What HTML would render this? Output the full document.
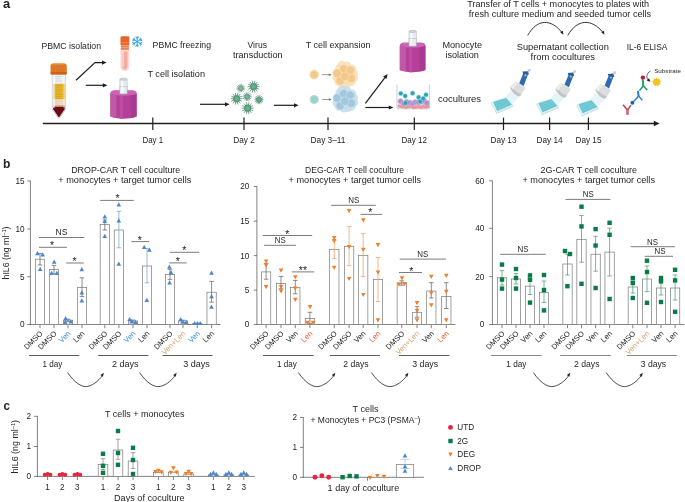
<!DOCTYPE html>
<html><head><meta charset="utf-8"><title>figure</title>
<style>
html,body{margin:0;padding:0;background:#fff;}
svg{display:block;will-change:transform;font-family:"Liberation Sans",sans-serif;}
</style></head><body>
<svg width="685" height="502" viewBox="0 0 685 502">
<rect width="685" height="502" fill="#fff"/>
<g id="panelA">
<text x="3.00" y="7.60" font-size="12" fill="#242424" textLength="7.20" lengthAdjust="spacingAndGlyphs" font-weight="bold">a</text>
<line x1="42.80" y1="123.50" x2="656.00" y2="123.50" stroke="#1f1f1f" stroke-width="1.3" />
<path d="M653.8 120.8L659.6 123.5L653.8 126.2Z" fill="#1f1f1f"/>
<line x1="152.80" y1="117.60" x2="152.80" y2="130.00" stroke="#1f1f1f" stroke-width="1.2" />
<text x="142.50" y="143.00" font-size="8.5" fill="#242424" textLength="20.70" lengthAdjust="spacingAndGlyphs" >Day 1</text>
<line x1="244.00" y1="117.60" x2="244.00" y2="130.00" stroke="#1f1f1f" stroke-width="1.2" />
<text x="233.20" y="143.00" font-size="8.5" fill="#242424" textLength="21.60" lengthAdjust="spacingAndGlyphs" >Day 2</text>
<line x1="328.00" y1="117.60" x2="328.00" y2="130.00" stroke="#1f1f1f" stroke-width="1.2" />
<text x="310.50" y="143.00" font-size="8.5" fill="#242424" textLength="35.00" lengthAdjust="spacingAndGlyphs" >Day 3–11</text>
<line x1="414.30" y1="117.60" x2="414.30" y2="130.00" stroke="#1f1f1f" stroke-width="1.2" />
<text x="401.50" y="143.00" font-size="8.5" fill="#242424" textLength="25.50" lengthAdjust="spacingAndGlyphs" >Day 12</text>
<line x1="503.50" y1="117.60" x2="503.50" y2="130.00" stroke="#1f1f1f" stroke-width="1.2" />
<text x="490.50" y="143.00" font-size="8.5" fill="#242424" textLength="26.00" lengthAdjust="spacingAndGlyphs" >Day 13</text>
<line x1="549.60" y1="117.60" x2="549.60" y2="130.00" stroke="#1f1f1f" stroke-width="1.2" />
<text x="536.50" y="143.00" font-size="8.5" fill="#242424" textLength="26.20" lengthAdjust="spacingAndGlyphs" >Day 14</text>
<line x1="588.40" y1="117.60" x2="588.40" y2="130.00" stroke="#1f1f1f" stroke-width="1.2" />
<text x="575.50" y="143.00" font-size="8.5" fill="#242424" textLength="26.00" lengthAdjust="spacingAndGlyphs" >Day 15</text>
<text x="41.50" y="48.60" font-size="8.8" fill="#242424" textLength="59.50" lengthAdjust="spacingAndGlyphs" >PBMC isolation</text>
<text x="152.60" y="47.70" font-size="8.8" fill="#242424" textLength="58.40" lengthAdjust="spacingAndGlyphs" >PBMC freezing</text>
<text x="147.40" y="76.80" font-size="8.8" fill="#242424" textLength="57.60" lengthAdjust="spacingAndGlyphs" >T cell isolation</text>
<text x="247.50" y="47.70" font-size="8.8" fill="#242424" textLength="19.50" lengthAdjust="spacingAndGlyphs" >Virus</text>
<text x="233.00" y="57.90" font-size="8.8" fill="#242424" textLength="49.50" lengthAdjust="spacingAndGlyphs" >transduction</text>
<text x="305.70" y="47.50" font-size="8.8" fill="#242424" textLength="64.80" lengthAdjust="spacingAndGlyphs" >T cell expansion</text>
<text x="442.40" y="47.80" font-size="8.8" fill="#242424" textLength="39.70" lengthAdjust="spacingAndGlyphs" >Monocyte</text>
<text x="445.40" y="57.60" font-size="8.8" fill="#242424" textLength="33.40" lengthAdjust="spacingAndGlyphs" >isolation</text>
<text x="438.00" y="101.60" font-size="8.8" fill="#242424" textLength="43.00" lengthAdjust="spacingAndGlyphs" >cocultures</text>
<text x="467.30" y="6.70" font-size="8.8" fill="#242424" textLength="181.70" lengthAdjust="spacingAndGlyphs" >Transfer of T cells + monocytes to plates with</text>
<text x="468.80" y="16.60" font-size="8.8" fill="#242424" textLength="182.40" lengthAdjust="spacingAndGlyphs" >fresh culture medium and seeded tumor cells</text>
<text x="516.70" y="49.80" font-size="8.8" fill="#242424" textLength="92.20" lengthAdjust="spacingAndGlyphs" >Supernatant collection</text>
<text x="530.50" y="59.60" font-size="8.8" fill="#242424" textLength="64.60" lengthAdjust="spacingAndGlyphs" >from cocultures</text>
<text x="626.70" y="50.00" font-size="8.4" fill="#242424" textLength="40.70" lengthAdjust="spacingAndGlyphs" >IL-6 ELISA</text>
<text x="654.20" y="72.70" font-size="6.2" fill="#242424" textLength="26.70" lengthAdjust="spacingAndGlyphs" >Substrate</text>
<g>
<path d="M52.2 73 L52.2 108.8 Q52.2 109.8 52.8 110.6 L57.8 117.7 Q58.9 119 60 117.7 L65 110.6 Q65.6 109.8 65.6 108.8 L65.6 73 Z" fill="#eef1f3" stroke="#aeb4ba" stroke-width="0.5"/>
<rect x="53.2" y="83.8" width="11.4" height="15.6" fill="#e7b52a"/>
<rect x="53.2" y="99.4" width="11.4" height="7.4" fill="#f1dcc0"/>
<path d="M53.2 106.8 L64.6 106.8 L64.6 109.2 L59.6 116.8 Q58.9 117.6 58.2 116.8 L53.2 109.2 Z" fill="#6b0d13"/>
<rect x="53.2" y="105.4" width="11.4" height="1.6" fill="#b77a6a" opacity="0.7"/>
<rect x="53.1" y="74" width="1.7" height="34" fill="#fff" opacity="0.6"/>
<rect x="63.2" y="74" width="1.2" height="34" fill="#fff" opacity="0.3"/>
<g stroke="#b88f16" stroke-width="0.4"><line x1="55.6" y1="85.6" x2="61.6" y2="85.6"/><line x1="55.6" y1="87.8" x2="60" y2="87.8"/><line x1="55.6" y1="90" x2="61.6" y2="90"/><line x1="55.6" y1="92.2" x2="60" y2="92.2"/><line x1="55.6" y1="94.4" x2="61.6" y2="94.4"/><line x1="55.6" y1="96.6" x2="60" y2="96.6"/><line x1="55.6" y1="98.8" x2="61.6" y2="98.8"/></g>
<g stroke="#d9c3a4" stroke-width="0.4"><line x1="55.6" y1="101.4" x2="61.6" y2="101.4"/><line x1="55.6" y1="103.8" x2="60" y2="103.8"/></g>
<g stroke="#aeb3b9" stroke-width="0.4"><line x1="55.6" y1="76.6" x2="61.6" y2="76.6"/><line x1="55.6" y1="78.8" x2="60" y2="78.8"/><line x1="55.6" y1="81" x2="61.6" y2="81"/></g>
<path d="M50.5 66 Q50.5 63.4 53 63.4 L64.2 63.4 Q66.8 63.4 66.8 66 L66.8 72.8 Q66.8 74.4 65.2 74.4 L52 74.4 Q50.5 74.4 50.5 72.8 Z" fill="#de782b"/>
<rect x="50.5" y="72" width="16.3" height="2.4" rx="1" fill="#c9641f"/>
<path d="M51.6 64.6 Q52 63.6 53.4 63.6 L64 63.6 Q65.4 63.6 65.8 64.6 Z" fill="#ee9850"/>
<g stroke="#c86a24" stroke-width="0.35" opacity="0.7"><line x1="53.5" y1="65" x2="53.5" y2="72"/><line x1="56" y1="65" x2="56" y2="72"/><line x1="58.6" y1="65" x2="58.6" y2="72"/><line x1="61.2" y1="65" x2="61.2" y2="72"/><line x1="63.8" y1="65" x2="63.8" y2="72"/></g>
</g>
<path d="M76 80.2 L95 62.6 L102 62.6" fill="none" stroke="#1f1f1f" stroke-width="1.2"/>
<path d="M106.6 62.6L102 60.5L102 64.7Z" fill="#1f1f1f"/>
<line x1="85.80" y1="85.30" x2="103.30" y2="85.30" stroke="#1f1f1f" stroke-width="1.2" />
<path d="M107.40 85.30L102.80 87.40L102.80 83.20Z" fill="#1f1f1f"/>
<g>
<path d="M120.9 48 L120.9 66.4 Q120.9 70.6 124.9 70.6 Q128.9 70.6 128.9 66.4 L128.9 48 Z" fill="#fbe3dd" stroke="#e6b3a8" stroke-width="0.4"/>
<path d="M122.2 51.4 L122.2 66 Q122.2 69.4 124.9 69.4 Q127.6 69.4 127.6 66 L127.6 51.4 Z" fill="#f4aca2"/>
<rect x="122.4" y="52" width="1.5" height="14.6" fill="#fbd9d2" opacity="0.9"/>
<rect x="120.5" y="36.2" width="8.8" height="9.4" rx="1.4" fill="#e8632a"/>
<rect x="120.9" y="45" width="8" height="4.8" fill="#ee7f4a"/>
<line x1="120.7" y1="42.6" x2="129.1" y2="42.6" stroke="#f4a07a" stroke-width="0.6"/>
<line x1="120.9" y1="45.4" x2="128.9" y2="45.4" stroke="#f9c4ab" stroke-width="0.5"/>
<line x1="120.9" y1="47.6" x2="128.9" y2="47.6" stroke="#f9c4ab" stroke-width="0.5"/>
</g>
<path d="M137.20 41.60L137.20 46.80M137.20 44.80L138.73 46.09M137.20 44.80L135.67 46.09M137.20 41.60L132.70 44.20M134.43 43.20L134.08 45.17M134.43 43.20L132.55 42.52M137.20 41.60L132.70 39.00M134.43 40.00L132.55 40.68M134.43 40.00L134.08 38.03M137.20 41.60L137.20 36.40M137.20 38.40L135.67 37.11M137.20 38.40L138.73 37.11M137.20 41.60L141.70 39.00M139.97 40.00L140.32 38.03M139.97 40.00L141.85 40.68M137.20 41.60L141.70 44.20M139.97 43.20L141.85 42.52M139.97 43.20L140.32 45.17" stroke="#1e9be0" stroke-width="0.9" fill="none" stroke-linecap="round"/>
<g>
<rect x="119.90" y="79.20" width="7.2" height="15" fill="#e6ecef" stroke="#aab4ba" stroke-width="0.5"/>
<rect x="121.20" y="80.40" width="2" height="13" fill="#fff" opacity="0.8"/>
<ellipse cx="123.50" cy="79.20" rx="3.6" ry="1.1" fill="#cfd6da" stroke="#9aa5ab" stroke-width="0.4"/>
<path d="M110.40 93.90 Q110.40 91.00 114.40 90.60 L132.60 90.60 Q136.60 91.00 136.60 93.90 L136.60 116.40 Q123.50 121.00 110.40 116.40 Z" fill="#b5409a"/>
<path d="M110.40 93.90 L116.40 95.40 L116.40 118.00 Q112.40 117.40 110.40 116.40 Z" fill="#c158a8"/>
<path d="M136.60 93.90 L130.60 95.40 L130.60 118.00 Q134.60 117.40 136.60 116.40 Z" fill="#aa3a91"/>
<rect x="119.83" y="95.40" width="3.14" height="23.40" fill="#bf4ea5" opacity="0.9"/>
<path d="M110.40 93.90 Q110.40 91.00 114.40 90.60 L132.60 90.60 Q136.60 91.00 136.60 93.90 Q123.50 97.40 110.40 93.90 Z" fill="#cc63b4"/>
<rect x="119.90" y="86.40" width="7.2" height="7.5" fill="#e6ecef" stroke="#aab4ba" stroke-width="0.5"/>
<rect x="121.20" y="86.40" width="2" height="7" fill="#fff" opacity="0.8"/>
</g>
<g>
<rect x="409.00" y="31.40" width="7.2" height="15" fill="#e6ecef" stroke="#aab4ba" stroke-width="0.5"/>
<rect x="410.30" y="32.60" width="2" height="13" fill="#fff" opacity="0.8"/>
<ellipse cx="412.60" cy="31.40" rx="3.6" ry="1.1" fill="#cfd6da" stroke="#9aa5ab" stroke-width="0.4"/>
<path d="M399.80 46.10 Q399.80 43.20 403.80 42.80 L421.40 42.80 Q425.40 43.20 425.40 46.10 L425.40 70.00 Q412.60 74.60 399.80 70.00 Z" fill="#b5409a"/>
<path d="M399.80 46.10 L405.80 47.60 L405.80 71.60 Q401.80 71.00 399.80 70.00 Z" fill="#c158a8"/>
<path d="M425.40 46.10 L419.40 47.60 L419.40 71.60 Q423.40 71.00 425.40 70.00 Z" fill="#aa3a91"/>
<rect x="409.02" y="47.60" width="3.07" height="24.80" fill="#bf4ea5" opacity="0.9"/>
<path d="M399.80 46.10 Q399.80 43.20 403.80 42.80 L421.40 42.80 Q425.40 43.20 425.40 46.10 Q412.60 49.60 399.80 46.10 Z" fill="#cc63b4"/>
<rect x="409.00" y="38.60" width="7.2" height="7.5" fill="#e6ecef" stroke="#aab4ba" stroke-width="0.5"/>
<rect x="410.30" y="38.60" width="2" height="7" fill="#fff" opacity="0.8"/>
</g>
<line x1="200.00" y1="104.30" x2="225.50" y2="104.30" stroke="#1f1f1f" stroke-width="1.2" />
<path d="M229.60 104.30L225.00 106.40L225.00 102.20Z" fill="#1f1f1f"/>
<g opacity="0.85"><path d="M243.14 88.20L244.70 88.20M242.91 89.22L244.31 89.89M242.26 90.03L243.23 91.25M241.32 90.48L241.67 92.00M240.28 90.48L239.93 92.00M239.34 90.03L238.37 91.25M238.69 89.22L237.29 89.89M238.46 88.20L236.90 88.20M238.69 87.18L237.29 86.51M239.34 86.37L238.37 85.15M240.28 85.92L239.93 84.40M241.32 85.92L241.67 84.40M242.26 86.37L243.23 85.15M242.91 87.18L244.31 86.51" stroke="#2f6658" stroke-width="0.65" stroke-linecap="round" fill="none"/>
<circle cx="240.8" cy="88.2" r="2.34" fill="#5aa37e" stroke="#3f8567" stroke-width="0.5"/>
<circle cx="240.8" cy="88.2" r="1.29" fill="#6db48c" opacity="0.8"/></g>
<g opacity="1.0"><path d="M256.96 86.70L259.20 86.70M256.63 88.16L258.65 89.13M255.69 89.33L257.09 91.08M254.35 89.98L254.85 92.16M252.85 89.98L252.35 92.16M251.51 89.33L250.11 91.08M250.57 88.16L248.55 89.13M250.24 86.70L248.00 86.70M250.57 85.24L248.55 84.27M251.51 84.07L250.11 82.32M252.85 83.42L252.35 81.24M254.35 83.42L254.85 81.24M255.69 84.07L257.09 82.32M256.63 85.24L258.65 84.27" stroke="#2f6658" stroke-width="0.65" stroke-linecap="round" fill="none"/>
<circle cx="253.6" cy="86.7" r="3.36" fill="#5aa37e" stroke="#3f8567" stroke-width="0.5"/>
<circle cx="253.6" cy="86.7" r="1.85" fill="#6db48c" opacity="0.8"/></g>
<g opacity="1.0"><path d="M239.96 98.70L242.20 98.70M239.63 100.16L241.65 101.13M238.69 101.33L240.09 103.08M237.35 101.98L237.85 104.16M235.85 101.98L235.35 104.16M234.51 101.33L233.11 103.08M233.57 100.16L231.55 101.13M233.24 98.70L231.00 98.70M233.57 97.24L231.55 96.27M234.51 96.07L233.11 94.32M235.85 95.42L235.35 93.24M237.35 95.42L237.85 93.24M238.69 96.07L240.09 94.32M239.63 97.24L241.65 96.27" stroke="#2f6658" stroke-width="0.65" stroke-linecap="round" fill="none"/>
<circle cx="236.6" cy="98.7" r="3.36" fill="#5aa37e" stroke="#3f8567" stroke-width="0.5"/>
<circle cx="236.6" cy="98.7" r="1.85" fill="#6db48c" opacity="0.8"/></g>
<g opacity="0.9"><path d="M249.72 96.80L251.40 96.80M249.47 97.89L250.98 98.62M248.77 98.77L249.82 100.08M247.76 99.26L248.13 100.89M246.64 99.26L246.27 100.89M245.63 98.77L244.58 100.08M244.93 97.89L243.42 98.62M244.68 96.80L243.00 96.80M244.93 95.71L243.42 94.98M245.63 94.83L244.58 93.52M246.64 94.34L246.27 92.71M247.76 94.34L248.13 92.71M248.77 94.83L249.82 93.52M249.47 95.71L250.98 94.98" stroke="#2f6658" stroke-width="0.65" stroke-linecap="round" fill="none"/>
<circle cx="247.2" cy="96.8" r="2.52" fill="#5aa37e" stroke="#3f8567" stroke-width="0.5"/>
<circle cx="247.2" cy="96.8" r="1.39" fill="#6db48c" opacity="0.8"/></g>
<g opacity="1.0"><path d="M261.52 99.70L263.20 99.70M261.27 100.79L262.78 101.52M260.57 101.67L261.62 102.98M259.56 102.16L259.93 103.79M258.44 102.16L258.07 103.79M257.43 101.67L256.38 102.98M256.73 100.79L255.22 101.52M256.48 99.70L254.80 99.70M256.73 98.61L255.22 97.88M257.43 97.73L256.38 96.42M258.44 97.24L258.07 95.61M259.56 97.24L259.93 95.61M260.57 97.73L261.62 96.42M261.27 98.61L262.78 97.88" stroke="#2f6658" stroke-width="0.65" stroke-linecap="round" fill="none"/>
<circle cx="259" cy="99.7" r="2.52" fill="#5aa37e" stroke="#3f8567" stroke-width="0.5"/>
<circle cx="259" cy="99.7" r="1.39" fill="#6db48c" opacity="0.8"/></g>
<g opacity="1.0"><path d="M251.06 108.20L253.30 108.20M250.73 109.66L252.75 110.63M249.79 110.83L251.19 112.58M248.45 111.48L248.95 113.66M246.95 111.48L246.45 113.66M245.61 110.83L244.21 112.58M244.67 109.66L242.65 110.63M244.34 108.20L242.10 108.20M244.67 106.74L242.65 105.77M245.61 105.57L244.21 103.82M246.95 104.92L246.45 102.74M248.45 104.92L248.95 102.74M249.79 105.57L251.19 103.82M250.73 106.74L252.75 105.77" stroke="#2f6658" stroke-width="0.65" stroke-linecap="round" fill="none"/>
<circle cx="247.7" cy="108.2" r="3.36" fill="#5aa37e" stroke="#3f8567" stroke-width="0.5"/>
<circle cx="247.7" cy="108.2" r="1.85" fill="#6db48c" opacity="0.8"/></g>
<line x1="273.90" y1="105.30" x2="294.50" y2="105.30" stroke="#1f1f1f" stroke-width="1.2" />
<path d="M298.60 105.30L294.00 107.40L294.00 103.20Z" fill="#1f1f1f"/>
<circle cx="314.2" cy="74.7" r="4.6" fill="#f7d49e"/><circle cx="314.2" cy="74.7" r="3.4" fill="#f5c98a"/>
<circle cx="314.2" cy="99.5" r="4.6" fill="#b5dcd8"/><circle cx="314.2" cy="99.5" r="3.4" fill="#9fd0cc"/>
<line x1="322.00" y1="74.70" x2="329.30" y2="74.70" stroke="#6f6f6f" stroke-width="0.7" />
<path d="M331.80 74.70L328.80 76.00L328.80 73.40Z" fill="#6f6f6f"/>
<line x1="322.00" y1="99.50" x2="329.30" y2="99.50" stroke="#6f6f6f" stroke-width="0.7" />
<path d="M331.80 99.50L328.80 100.80L328.80 98.20Z" fill="#6f6f6f"/>
<circle cx="341.9" cy="65.0" r="4.2" fill="#f8dcb4" opacity="0.8"/>
<circle cx="347.0" cy="65.60000000000001" r="4.2" fill="#f8dcb4" opacity="0.8"/>
<circle cx="353.79999999999995" cy="73.2" r="4.2" fill="#f8dcb4" opacity="0.8"/>
<circle cx="347.7" cy="83.0" r="4.2" fill="#f8dcb4" opacity="0.8"/>
<circle cx="336.59999999999997" cy="77.9" r="4.2" fill="#f8dcb4" opacity="0.8"/>
<circle cx="354.0" cy="77.80000000000001" r="4.2" fill="#f8dcb4" opacity="0.8"/>
<circle cx="339.4" cy="68.2" r="4.2" fill="#f8dcb4" opacity="0.8"/>
<circle cx="352.0" cy="68.80000000000001" r="4.2" fill="#f8dcb4" opacity="0.8"/>
<circle cx="343.79999999999995" cy="83.4" r="4.2" fill="#f8dcb4" opacity="0.8"/>
<circle cx="351.4" cy="81.80000000000001" r="4.2" fill="#f8dcb4" opacity="0.8"/>
<circle cx="338.79999999999995" cy="81.80000000000001" r="4.2" fill="#f8dcb4" opacity="0.8"/>
<circle cx="337.2" cy="73.2" r="4.3" fill="#f4c88c" stroke="#f9e6b4" stroke-width="0.6"/>
<circle cx="343.7" cy="69.0" r="4.3" fill="#f4c88c" stroke="#f9e6b4" stroke-width="0.6"/>
<circle cx="350.2" cy="70.4" r="4.3" fill="#f4c88c" stroke="#f9e6b4" stroke-width="0.6"/>
<circle cx="351.2" cy="78.4" r="4.3" fill="#f4c88c" stroke="#f9e6b4" stroke-width="0.6"/>
<circle cx="340.2" cy="80.80000000000001" r="4.3" fill="#f4c88c" stroke="#f9e6b4" stroke-width="0.6"/>
<circle cx="344.79999999999995" cy="76.5" r="4.3" fill="#f4c88c" stroke="#f9e6b4" stroke-width="0.6"/>
<circle cx="341.9" cy="89.8" r="4.2" fill="#c2dbe9" opacity="0.8"/>
<circle cx="347.0" cy="90.4" r="4.2" fill="#c2dbe9" opacity="0.8"/>
<circle cx="353.79999999999995" cy="98.0" r="4.2" fill="#c2dbe9" opacity="0.8"/>
<circle cx="347.7" cy="107.8" r="4.2" fill="#c2dbe9" opacity="0.8"/>
<circle cx="336.59999999999997" cy="102.7" r="4.2" fill="#c2dbe9" opacity="0.8"/>
<circle cx="354.0" cy="102.60000000000001" r="4.2" fill="#c2dbe9" opacity="0.8"/>
<circle cx="339.4" cy="93.0" r="4.2" fill="#c2dbe9" opacity="0.8"/>
<circle cx="352.0" cy="93.60000000000001" r="4.2" fill="#c2dbe9" opacity="0.8"/>
<circle cx="343.79999999999995" cy="108.2" r="4.2" fill="#c2dbe9" opacity="0.8"/>
<circle cx="351.4" cy="106.60000000000001" r="4.2" fill="#c2dbe9" opacity="0.8"/>
<circle cx="338.79999999999995" cy="106.60000000000001" r="4.2" fill="#c2dbe9" opacity="0.8"/>
<circle cx="337.2" cy="98.0" r="4.3" fill="#a3c8de" stroke="#d0e4ef" stroke-width="0.6"/>
<circle cx="343.7" cy="93.8" r="4.3" fill="#a3c8de" stroke="#d0e4ef" stroke-width="0.6"/>
<circle cx="350.2" cy="95.2" r="4.3" fill="#a3c8de" stroke="#d0e4ef" stroke-width="0.6"/>
<circle cx="351.2" cy="103.2" r="4.3" fill="#a3c8de" stroke="#d0e4ef" stroke-width="0.6"/>
<circle cx="340.2" cy="105.60000000000001" r="4.3" fill="#a3c8de" stroke="#d0e4ef" stroke-width="0.6"/>
<circle cx="344.79999999999995" cy="101.3" r="4.3" fill="#a3c8de" stroke="#d0e4ef" stroke-width="0.6"/>
<line x1="365.40" y1="103.30" x2="385.12" y2="77.27" stroke="#1f1f1f" stroke-width="1.2" />
<path d="M387.60 74.00L386.50 78.93L383.15 76.40Z" fill="#1f1f1f"/>
<line x1="365.40" y1="107.50" x2="389.30" y2="107.50" stroke="#1f1f1f" stroke-width="1.2" />
<path d="M393.40 107.50L388.80 109.60L388.80 105.40Z" fill="#1f1f1f"/>
<g>
<path d="M397 84.5 L397 108.8 L429.4 108.8 L429.4 84.5" fill="#fcfeff" stroke="#9fc0c8" stroke-width="0.7"/>
<circle cx="399.5" cy="106.1" r="1.9" fill="#e68f95" stroke="#f6c6c8" stroke-width="0.35"/>
<circle cx="401.6" cy="106.2" r="1.9" fill="#e68f95" stroke="#f6c6c8" stroke-width="0.35"/>
<circle cx="403.4" cy="106.6" r="1.9" fill="#e68f95" stroke="#f6c6c8" stroke-width="0.35"/>
<circle cx="406.0" cy="107.1" r="1.9" fill="#e68f95" stroke="#f6c6c8" stroke-width="0.35"/>
<circle cx="407.9" cy="106.3" r="1.9" fill="#e68f95" stroke="#f6c6c8" stroke-width="0.35"/>
<circle cx="409.7" cy="106.4" r="1.9" fill="#e68f95" stroke="#f6c6c8" stroke-width="0.35"/>
<circle cx="411.5" cy="106.1" r="1.9" fill="#e68f95" stroke="#f6c6c8" stroke-width="0.35"/>
<circle cx="413.5" cy="107.3" r="1.9" fill="#e68f95" stroke="#f6c6c8" stroke-width="0.35"/>
<circle cx="415.9" cy="107.1" r="1.9" fill="#e68f95" stroke="#f6c6c8" stroke-width="0.35"/>
<circle cx="417.9" cy="106.3" r="1.9" fill="#e68f95" stroke="#f6c6c8" stroke-width="0.35"/>
<circle cx="419.6" cy="106.9" r="1.9" fill="#e68f95" stroke="#f6c6c8" stroke-width="0.35"/>
<circle cx="421.8" cy="107.2" r="1.9" fill="#e68f95" stroke="#f6c6c8" stroke-width="0.35"/>
<circle cx="423.9" cy="106.1" r="1.9" fill="#e68f95" stroke="#f6c6c8" stroke-width="0.35"/>
<circle cx="425.8" cy="106.9" r="1.9" fill="#e68f95" stroke="#f6c6c8" stroke-width="0.35"/>
<circle cx="427.7" cy="106.2" r="1.9" fill="#e68f95" stroke="#f6c6c8" stroke-width="0.35"/>
<circle cx="400.6" cy="101.3" r="2.7" fill="#ad8fc9" stroke="#d6c6e6" stroke-width="0.5"/>
<circle cx="403.9" cy="103.6" r="2.7" fill="#ad8fc9" stroke="#d6c6e6" stroke-width="0.5"/>
<circle cx="406.5" cy="101.9" r="2.7" fill="#ad8fc9" stroke="#d6c6e6" stroke-width="0.5"/>
<circle cx="409.8" cy="102.7" r="2.7" fill="#ad8fc9" stroke="#d6c6e6" stroke-width="0.5"/>
<circle cx="412.7" cy="103.5" r="2.7" fill="#ad8fc9" stroke="#d6c6e6" stroke-width="0.5"/>
<circle cx="415.4" cy="102.2" r="2.7" fill="#ad8fc9" stroke="#d6c6e6" stroke-width="0.5"/>
<circle cx="418.4" cy="102.3" r="2.7" fill="#ad8fc9" stroke="#d6c6e6" stroke-width="0.5"/>
<circle cx="421.0" cy="101.9" r="2.7" fill="#ad8fc9" stroke="#d6c6e6" stroke-width="0.5"/>
<circle cx="424.5" cy="101.1" r="2.7" fill="#ad8fc9" stroke="#d6c6e6" stroke-width="0.5"/>
<circle cx="426.8" cy="102.9" r="2.7" fill="#ad8fc9" stroke="#d6c6e6" stroke-width="0.5"/>
<circle cx="400.8" cy="93.4" r="2.2" fill="#2f9fb3" stroke="#8fd3dc" stroke-width="0.5"/>
<circle cx="405.2" cy="96" r="2.2" fill="#2f9fb3" stroke="#8fd3dc" stroke-width="0.5"/>
<circle cx="412.6" cy="93.2" r="2.2" fill="#2f9fb3" stroke="#8fd3dc" stroke-width="0.5"/>
<circle cx="418.6" cy="97.2" r="2.2" fill="#2f9fb3" stroke="#8fd3dc" stroke-width="0.5"/>
<circle cx="426" cy="94.8" r="2.2" fill="#2f9fb3" stroke="#8fd3dc" stroke-width="0.5"/>
<circle cx="405.6" cy="103" r="2.2" fill="#2f9fb3" stroke="#8fd3dc" stroke-width="0.5"/>
<circle cx="420.2" cy="101.6" r="2.2" fill="#2f9fb3" stroke="#8fd3dc" stroke-width="0.5"/>
<circle cx="423.2" cy="98.4" r="2.2" fill="#2f9fb3" stroke="#8fd3dc" stroke-width="0.5"/>
</g>
<path d="M527.7 35.4 C537.2 18.6 550.9 18.6 562.0 32.5" fill="none" stroke="#1f1f1f" stroke-width="0.9"/>
<path d="M563.40 34.80L560.26 32.30L562.98 30.81Z" fill="#1f1f1f"/>
<path d="M567.8 35.4 C577.3 18.6 591.9 18.6 603.0 32.5" fill="none" stroke="#1f1f1f" stroke-width="0.9"/>
<path d="M604.40 34.80L601.26 32.30L603.98 30.81Z" fill="#1f1f1f"/>
<g transform="translate(0,0)">
<path d="M491.5 102.2 L506.8 97.1 L513.2 105.1 L513 106.6 L496.6 113.7 L491.4 103.6 Z" fill="#cfe6ea" stroke="#b4d6dc" stroke-width="0.4"/>
<path d="M491.5 102.2 L506.8 97.1 L513.2 105.1 L496.5 112.3 Z" fill="#e3f3f5"/>
<path d="M493.2 101.9 L506.3 97.9 L511.9 104.7 L497.2 110.9 Z" fill="#5fc2cf"/>
<path d="M495.07 101.33L499.30 110.01M496.94 100.76L501.40 109.13M498.81 100.19L503.50 108.24M500.69 99.61L505.60 107.36M502.56 99.04L507.70 106.47M504.43 98.47L509.80 105.59M494.20 104.15L507.70 99.60M495.20 106.40L509.10 101.30M496.20 108.65L510.50 103.00" stroke="#9adbe3" stroke-width="0.35" fill="none"/>
<path d="M509.6 90.4 L519.4 96.6 L513 103.4 L505.6 97.6 Z" fill="#d9eef6" opacity="0.75"/>
<path d="M510.00 90.80L506.00 97.60M511.76 91.92L507.32 98.68M513.52 93.04L508.64 99.76M515.28 94.16L509.96 100.84M517.04 95.28L511.28 101.92M518.80 96.40L512.60 103.00" stroke="#f4fbfd" stroke-width="0.6" fill="none"/>
<path d="M510.2 88.2 Q509.8 87.4 510.6 86.6 L514.6 82.2 Q515.4 81.4 516.6 82 L524.6 87 Q525.6 87.8 525 88.8 L520.4 95.6 Q519.6 96.6 518.4 96.2 Q513.2 94.2 510.2 88.2 Z" fill="#dcddde"/>
<path d="M510.2 88.2 Q513.2 94.2 518.4 96.2 Q519.6 96.6 520.4 95.6 L521.4 94 Q515.8 92.4 511.6 86.4 Z" fill="#c2c4c6"/>
<path d="M515 82 L517.2 83.2 L512.6 89.4 L510.8 87.2 Z" fill="#eeeeef"/>
<path d="M519.2 83.2 L523.6 72.6 L528 74.6 L523.6 86 Z" fill="#2f69ae"/>
<path d="M522.4 71.6 L527.8 71.2 L529 74.2 L526 75.4 L523.4 74.2 Z" fill="#2a5c9c"/>
<path d="M525 74 L526.8 74.8 L526 76.4 L524.2 75.6 Z" fill="#a9bdd6"/>
<line x1="527.8" y1="72.8" x2="529.2" y2="70.4" stroke="#9aa7b5" stroke-width="0.7"/>
<circle cx="529.4" cy="70.2" r="1.1" fill="#c9d3de" stroke="#93a4b8" stroke-width="0.3"/>
</g>
<g transform="translate(45.3,1.3)">
<path d="M491.5 102.2 L506.8 97.1 L513.2 105.1 L513 106.6 L496.6 113.7 L491.4 103.6 Z" fill="#cfe6ea" stroke="#b4d6dc" stroke-width="0.4"/>
<path d="M491.5 102.2 L506.8 97.1 L513.2 105.1 L496.5 112.3 Z" fill="#e3f3f5"/>
<path d="M493.2 101.9 L506.3 97.9 L511.9 104.7 L497.2 110.9 Z" fill="#5fc2cf"/>
<path d="M495.07 101.33L499.30 110.01M496.94 100.76L501.40 109.13M498.81 100.19L503.50 108.24M500.69 99.61L505.60 107.36M502.56 99.04L507.70 106.47M504.43 98.47L509.80 105.59M494.20 104.15L507.70 99.60M495.20 106.40L509.10 101.30M496.20 108.65L510.50 103.00" stroke="#9adbe3" stroke-width="0.35" fill="none"/>
<path d="M509.6 90.4 L519.4 96.6 L513 103.4 L505.6 97.6 Z" fill="#d9eef6" opacity="0.75"/>
<path d="M510.00 90.80L506.00 97.60M511.76 91.92L507.32 98.68M513.52 93.04L508.64 99.76M515.28 94.16L509.96 100.84M517.04 95.28L511.28 101.92M518.80 96.40L512.60 103.00" stroke="#f4fbfd" stroke-width="0.6" fill="none"/>
<path d="M510.2 88.2 Q509.8 87.4 510.6 86.6 L514.6 82.2 Q515.4 81.4 516.6 82 L524.6 87 Q525.6 87.8 525 88.8 L520.4 95.6 Q519.6 96.6 518.4 96.2 Q513.2 94.2 510.2 88.2 Z" fill="#dcddde"/>
<path d="M510.2 88.2 Q513.2 94.2 518.4 96.2 Q519.6 96.6 520.4 95.6 L521.4 94 Q515.8 92.4 511.6 86.4 Z" fill="#c2c4c6"/>
<path d="M515 82 L517.2 83.2 L512.6 89.4 L510.8 87.2 Z" fill="#eeeeef"/>
<path d="M519.2 83.2 L523.6 72.6 L528 74.6 L523.6 86 Z" fill="#2f69ae"/>
<path d="M522.4 71.6 L527.8 71.2 L529 74.2 L526 75.4 L523.4 74.2 Z" fill="#2a5c9c"/>
<path d="M525 74 L526.8 74.8 L526 76.4 L524.2 75.6 Z" fill="#a9bdd6"/>
<line x1="527.8" y1="72.8" x2="529.2" y2="70.4" stroke="#9aa7b5" stroke-width="0.7"/>
<circle cx="529.4" cy="70.2" r="1.1" fill="#c9d3de" stroke="#93a4b8" stroke-width="0.3"/>
</g>
<g transform="translate(85.4,2.4)">
<path d="M491.5 102.2 L506.8 97.1 L513.2 105.1 L513 106.6 L496.6 113.7 L491.4 103.6 Z" fill="#cfe6ea" stroke="#b4d6dc" stroke-width="0.4"/>
<path d="M491.5 102.2 L506.8 97.1 L513.2 105.1 L496.5 112.3 Z" fill="#e3f3f5"/>
<path d="M493.2 101.9 L506.3 97.9 L511.9 104.7 L497.2 110.9 Z" fill="#5fc2cf"/>
<path d="M495.07 101.33L499.30 110.01M496.94 100.76L501.40 109.13M498.81 100.19L503.50 108.24M500.69 99.61L505.60 107.36M502.56 99.04L507.70 106.47M504.43 98.47L509.80 105.59M494.20 104.15L507.70 99.60M495.20 106.40L509.10 101.30M496.20 108.65L510.50 103.00" stroke="#9adbe3" stroke-width="0.35" fill="none"/>
<path d="M509.6 90.4 L519.4 96.6 L513 103.4 L505.6 97.6 Z" fill="#d9eef6" opacity="0.75"/>
<path d="M510.00 90.80L506.00 97.60M511.76 91.92L507.32 98.68M513.52 93.04L508.64 99.76M515.28 94.16L509.96 100.84M517.04 95.28L511.28 101.92M518.80 96.40L512.60 103.00" stroke="#f4fbfd" stroke-width="0.6" fill="none"/>
<path d="M510.2 88.2 Q509.8 87.4 510.6 86.6 L514.6 82.2 Q515.4 81.4 516.6 82 L524.6 87 Q525.6 87.8 525 88.8 L520.4 95.6 Q519.6 96.6 518.4 96.2 Q513.2 94.2 510.2 88.2 Z" fill="#dcddde"/>
<path d="M510.2 88.2 Q513.2 94.2 518.4 96.2 Q519.6 96.6 520.4 95.6 L521.4 94 Q515.8 92.4 511.6 86.4 Z" fill="#c2c4c6"/>
<path d="M515 82 L517.2 83.2 L512.6 89.4 L510.8 87.2 Z" fill="#eeeeef"/>
<path d="M519.2 83.2 L523.6 72.6 L528 74.6 L523.6 86 Z" fill="#2f69ae"/>
<path d="M522.4 71.6 L527.8 71.2 L529 74.2 L526 75.4 L523.4 74.2 Z" fill="#2a5c9c"/>
<path d="M525 74 L526.8 74.8 L526 76.4 L524.2 75.6 Z" fill="#a9bdd6"/>
<line x1="527.8" y1="72.8" x2="529.2" y2="70.4" stroke="#9aa7b5" stroke-width="0.7"/>
<circle cx="529.4" cy="70.2" r="1.1" fill="#c9d3de" stroke="#93a4b8" stroke-width="0.3"/>
</g>
<g stroke-linecap="butt" fill="none">
<path d="M627.5 114.8L627.5 108.6" stroke="#c4404f" stroke-width="2.3"/>
<path d="M627.1 109.6L623 104.7M628 109.6L630.9 105.2" stroke="#c4404f" stroke-width="1.5"/>
<path d="M627.5 114.8L627.5 109" stroke="#e8a0a8" stroke-width="0.4"/>
<path d="M637.9 91L638.7 97" stroke="#2f86c2" stroke-width="2.1"/>
<path d="M638.5 96.2L633.8 101.3M638.9 96.2L642.3 100.4" stroke="#2f86c2" stroke-width="1.5"/>
<path d="M642.9 79.8L643.2 87" stroke="#1a9a5f" stroke-width="2.1"/>
<path d="M643 86.2L639.4 90.6M643.4 86L647.2 90.1" stroke="#1a9a5f" stroke-width="1.5"/>
<path d="M642.9 80L643.2 86.6" stroke="#7fd0a8" stroke-width="0.4"/>
</g>
<circle cx="632.4" cy="102.8" r="2" fill="#2a5fae"/>
<circle cx="642.9" cy="77.6" r="2.2" fill="#b2202c"/>
<polygon points="656.60,77.20 657.73,78.90 659.69,78.32 659.46,80.35 661.33,81.17 659.85,82.57 660.76,84.40 658.72,84.53 658.24,86.51 656.60,85.30 654.96,86.51 654.48,84.53 652.44,84.40 653.35,82.57 651.87,81.17 653.74,80.35 653.51,78.32 655.47,78.90" fill="#f3c31c"/>
<path d="M650.6 70.8 C646.4 73.4 645.8 78 648.6 80.4" fill="none" stroke="#1f1f1f" stroke-width="0.7"/>
<path d="M650.6 81.8L646.6 80.6L649 78.2Z" fill="#1f1f1f"/>
</g>
<g id="panelB">
<text x="3.00" y="168.00" font-size="12" fill="#242424" textLength="7.40" lengthAdjust="spacingAndGlyphs" font-weight="bold">b</text>
<line x1="30.40" y1="180.65" x2="30.40" y2="324.85" stroke="#4d4d4d" stroke-width="0.7" />
<line x1="27.20" y1="181.00" x2="30.40" y2="181.00" stroke="#4d4d4d" stroke-width="0.7" />
<text x="24.60" y="183.90" font-size="8.2" fill="#242424" text-anchor="end" >15</text>
<line x1="27.20" y1="229.00" x2="30.40" y2="229.00" stroke="#4d4d4d" stroke-width="0.7" />
<text x="24.60" y="231.90" font-size="8.2" fill="#242424" text-anchor="end" >10</text>
<line x1="27.20" y1="276.70" x2="30.40" y2="276.70" stroke="#4d4d4d" stroke-width="0.7" />
<text x="24.60" y="279.60" font-size="8.2" fill="#242424" text-anchor="end" >5</text>
<line x1="27.20" y1="324.50" x2="30.40" y2="324.50" stroke="#4d4d4d" stroke-width="0.7" />
<text x="24.60" y="327.40" font-size="8.2" fill="#242424" text-anchor="end" >0</text>
<text x="71.20" y="172.50" font-size="8.8" fill="#242424" textLength="109.00" lengthAdjust="spacingAndGlyphs" >DROP-CAR T cell coculture</text>
<text x="58.30" y="183.20" font-size="8.8" fill="#242424" textLength="133.00" lengthAdjust="spacingAndGlyphs" >+ monocytes + target tumor cells</text>
<text transform="translate(9.4,253) rotate(-90)" font-size="8.8" fill="#242424" text-anchor="middle" textLength="53" lengthAdjust="spacingAndGlyphs">hIL6 (ng ml<tspan font-size="5.6" dy="-3">–1</tspan><tspan dy="3">)</tspan></text>
<line x1="30.05" y1="324.50" x2="220.60" y2="324.50" stroke="#4d4d4d" stroke-width="0.7" />
<line x1="40.00" y1="324.50" x2="40.00" y2="328.10" stroke="#4d4d4d" stroke-width="0.7" />
<text transform="translate(43.10,334.00) rotate(-45)" font-size="7.6" fill="#242424" text-anchor="end">DMSO</text>
<line x1="54.00" y1="324.50" x2="54.00" y2="328.10" stroke="#4d4d4d" stroke-width="0.7" />
<text transform="translate(57.10,334.00) rotate(-45)" font-size="7.6" fill="#242424" text-anchor="end">DMSO</text>
<line x1="68.00" y1="324.50" x2="68.00" y2="328.10" stroke="#4d4d4d" stroke-width="0.7" />
<text transform="translate(71.10,334.00) rotate(-45)" font-size="7.6" fill="#3b93dd" text-anchor="end">Ven</text>
<line x1="82.00" y1="324.50" x2="82.00" y2="328.10" stroke="#4d4d4d" stroke-width="0.7" />
<text transform="translate(85.10,334.00) rotate(-45)" font-size="7.6" fill="#242424" text-anchor="end">Len</text>
<line x1="104.80" y1="324.50" x2="104.80" y2="328.10" stroke="#4d4d4d" stroke-width="0.7" />
<text transform="translate(107.90,334.00) rotate(-45)" font-size="7.6" fill="#242424" text-anchor="end">DMSO</text>
<line x1="118.90" y1="324.50" x2="118.90" y2="328.10" stroke="#4d4d4d" stroke-width="0.7" />
<text transform="translate(122.00,334.00) rotate(-45)" font-size="7.6" fill="#242424" text-anchor="end">DMSO</text>
<line x1="133.00" y1="324.50" x2="133.00" y2="328.10" stroke="#4d4d4d" stroke-width="0.7" />
<text transform="translate(136.10,334.00) rotate(-45)" font-size="7.6" fill="#3b93dd" text-anchor="end">Ven</text>
<line x1="147.00" y1="324.50" x2="147.00" y2="328.10" stroke="#4d4d4d" stroke-width="0.7" />
<text transform="translate(150.10,334.00) rotate(-45)" font-size="7.6" fill="#242424" text-anchor="end">Len</text>
<line x1="170.00" y1="324.50" x2="170.00" y2="328.10" stroke="#4d4d4d" stroke-width="0.7" />
<text transform="translate(173.10,334.00) rotate(-45)" font-size="7.6" fill="#242424" text-anchor="end">DMSO</text>
<line x1="183.00" y1="324.50" x2="183.00" y2="328.10" stroke="#4d4d4d" stroke-width="0.7" />
<text transform="translate(186.10,334.00) rotate(-45)" font-size="7.6" fill="#d9a470" text-anchor="end">Ven+Len</text>
<line x1="197.30" y1="324.50" x2="197.30" y2="328.10" stroke="#4d4d4d" stroke-width="0.7" />
<text transform="translate(200.40,334.00) rotate(-45)" font-size="7.6" fill="#3b93dd" text-anchor="end">Ven</text>
<line x1="211.60" y1="324.50" x2="211.60" y2="328.10" stroke="#4d4d4d" stroke-width="0.7" />
<text transform="translate(214.70,334.00) rotate(-45)" font-size="7.6" fill="#242424" text-anchor="end">Len</text>
<rect x="35.35" y="259.20" width="9.3" height="65.30" fill="#fff" stroke="#7a7a7a" stroke-width="0.7"/>
<line x1="40.00" y1="253.40" x2="40.00" y2="265.00" stroke="#5c5c5c" stroke-width="0.7" />
<line x1="37.70" y1="253.40" x2="42.30" y2="253.40" stroke="#5c5c5c" stroke-width="0.7" />
<line x1="37.70" y1="265.00" x2="42.30" y2="265.00" stroke="#5c5c5c" stroke-width="0.7" />
<path d="M35.10 255.30L39.70 255.30L37.40 251.10Z" fill="#4b87c9"/>
<path d="M40.40 256.50L45.00 256.50L42.70 252.30Z" fill="#4b87c9"/>
<path d="M37.90 270.90L42.50 270.90L40.20 266.70Z" fill="#4b87c9"/>
<rect x="49.35" y="269.40" width="9.3" height="55.10" fill="#fff" stroke="#7a7a7a" stroke-width="0.7"/>
<line x1="54.00" y1="265.40" x2="54.00" y2="274.00" stroke="#5c5c5c" stroke-width="0.7" />
<line x1="51.70" y1="265.40" x2="56.30" y2="265.40" stroke="#5c5c5c" stroke-width="0.7" />
<line x1="51.70" y1="274.00" x2="56.30" y2="274.00" stroke="#5c5c5c" stroke-width="0.7" />
<path d="M51.90 263.70L56.50 263.70L54.20 259.50Z" fill="#4b87c9"/>
<path d="M49.30 274.90L53.90 274.90L51.60 270.70Z" fill="#4b87c9"/>
<path d="M54.50 274.90L59.10 274.90L56.80 270.70Z" fill="#4b87c9"/>
<rect x="63.35" y="320.20" width="9.3" height="4.30" fill="#fff" stroke="#7a7a7a" stroke-width="0.7"/>
<line x1="68.00" y1="319.20" x2="68.00" y2="321.60" stroke="#5c5c5c" stroke-width="0.7" />
<line x1="65.70" y1="319.20" x2="70.30" y2="319.20" stroke="#5c5c5c" stroke-width="0.7" />
<line x1="65.70" y1="321.60" x2="70.30" y2="321.60" stroke="#5c5c5c" stroke-width="0.7" />
<path d="M63.30 320.20L67.90 320.20L65.60 316.00Z" fill="#4b87c9"/>
<path d="M62.90 323.90L67.50 323.90L65.20 319.70Z" fill="#4b87c9"/>
<path d="M68.50 323.50L73.10 323.50L70.80 319.30Z" fill="#4b87c9"/>
<rect x="77.35" y="287.40" width="9.3" height="37.10" fill="#fff" stroke="#7a7a7a" stroke-width="0.7"/>
<line x1="82.00" y1="277.80" x2="82.00" y2="296.60" stroke="#5c5c5c" stroke-width="0.7" />
<line x1="79.70" y1="277.80" x2="84.30" y2="277.80" stroke="#5c5c5c" stroke-width="0.7" />
<line x1="79.70" y1="296.60" x2="84.30" y2="296.60" stroke="#5c5c5c" stroke-width="0.7" />
<path d="M79.50 271.30L84.10 271.30L81.80 267.10Z" fill="#4b87c9"/>
<path d="M79.50 294.50L84.10 294.50L81.80 290.30Z" fill="#4b87c9"/>
<path d="M79.50 302.50L84.10 302.50L81.80 298.30Z" fill="#4b87c9"/>
<rect x="100.15" y="224.60" width="9.3" height="99.90" fill="#fff" stroke="#7a7a7a" stroke-width="0.7"/>
<line x1="104.80" y1="220.00" x2="104.80" y2="230.00" stroke="#5c5c5c" stroke-width="0.7" />
<line x1="102.50" y1="220.00" x2="107.10" y2="220.00" stroke="#5c5c5c" stroke-width="0.7" />
<line x1="102.50" y1="230.00" x2="107.10" y2="230.00" stroke="#5c5c5c" stroke-width="0.7" />
<path d="M102.50 218.50L107.10 218.50L104.80 214.30Z" fill="#4b87c9"/>
<path d="M102.50 222.90L107.10 222.90L104.80 218.70Z" fill="#4b87c9"/>
<path d="M102.50 237.90L107.10 237.90L104.80 233.70Z" fill="#4b87c9"/>
<rect x="114.25" y="230.00" width="9.3" height="94.50" fill="#fff" stroke="#7a7a7a" stroke-width="0.7"/>
<line x1="118.90" y1="211.30" x2="118.90" y2="247.80" stroke="#6d9fd6" stroke-width="0.7" />
<line x1="116.60" y1="211.30" x2="121.20" y2="211.30" stroke="#6d9fd6" stroke-width="0.7" />
<line x1="116.60" y1="247.80" x2="121.20" y2="247.80" stroke="#6d9fd6" stroke-width="0.7" />
<path d="M116.50 206.50L121.10 206.50L118.80 202.30Z" fill="#4b87c9"/>
<path d="M116.50 222.50L121.10 222.50L118.80 218.30Z" fill="#4b87c9"/>
<path d="M116.50 265.80L121.10 265.80L118.80 261.60Z" fill="#4b87c9"/>
<rect x="128.35" y="321.00" width="9.3" height="3.50" fill="#fff" stroke="#7a7a7a" stroke-width="0.7"/>
<line x1="133.00" y1="320.00" x2="133.00" y2="322.60" stroke="#5c5c5c" stroke-width="0.7" />
<line x1="130.70" y1="320.00" x2="135.30" y2="320.00" stroke="#5c5c5c" stroke-width="0.7" />
<line x1="130.70" y1="322.60" x2="135.30" y2="322.60" stroke="#5c5c5c" stroke-width="0.7" />
<path d="M127.30 321.10L131.90 321.10L129.60 316.90Z" fill="#4b87c9"/>
<path d="M129.30 323.50L133.90 323.50L131.60 319.30Z" fill="#4b87c9"/>
<path d="M133.30 323.90L137.90 323.90L135.60 319.70Z" fill="#4b87c9"/>
<rect x="142.35" y="266.00" width="9.3" height="58.50" fill="#fff" stroke="#7a7a7a" stroke-width="0.7"/>
<line x1="147.00" y1="248.60" x2="147.00" y2="282.80" stroke="#6d9fd6" stroke-width="0.7" />
<line x1="144.70" y1="248.60" x2="149.30" y2="248.60" stroke="#6d9fd6" stroke-width="0.7" />
<line x1="144.70" y1="282.80" x2="149.30" y2="282.80" stroke="#6d9fd6" stroke-width="0.7" />
<path d="M141.90 248.90L146.50 248.90L144.20 244.70Z" fill="#4b87c9"/>
<path d="M147.10 251.70L151.70 251.70L149.40 247.50Z" fill="#4b87c9"/>
<path d="M144.50 301.90L149.10 301.90L146.80 297.70Z" fill="#4b87c9"/>
<rect x="165.35" y="274.40" width="9.3" height="50.10" fill="#fff" stroke="#7a7a7a" stroke-width="0.7"/>
<line x1="170.00" y1="269.30" x2="170.00" y2="279.40" stroke="#5c5c5c" stroke-width="0.7" />
<line x1="167.70" y1="269.30" x2="172.30" y2="269.30" stroke="#5c5c5c" stroke-width="0.7" />
<line x1="167.70" y1="279.40" x2="172.30" y2="279.40" stroke="#5c5c5c" stroke-width="0.7" />
<path d="M167.10 268.70L171.70 268.70L169.40 264.50Z" fill="#4b87c9"/>
<path d="M168.70 274.30L173.30 274.30L171.00 270.10Z" fill="#4b87c9"/>
<path d="M167.30 284.50L171.90 284.50L169.60 280.30Z" fill="#4b87c9"/>
<rect x="178.35" y="321.00" width="9.3" height="3.50" fill="#fff" stroke="#7a7a7a" stroke-width="0.7"/>
<line x1="183.00" y1="320.20" x2="183.00" y2="322.60" stroke="#5c5c5c" stroke-width="0.7" />
<line x1="180.70" y1="320.20" x2="185.30" y2="320.20" stroke="#5c5c5c" stroke-width="0.7" />
<line x1="180.70" y1="322.60" x2="185.30" y2="322.60" stroke="#5c5c5c" stroke-width="0.7" />
<path d="M178.30 321.30L182.90 321.30L180.60 317.10Z" fill="#4b87c9"/>
<path d="M180.30 323.70L184.90 323.70L182.60 319.50Z" fill="#4b87c9"/>
<path d="M184.00 323.90L188.60 323.90L186.30 319.70Z" fill="#4b87c9"/>
<rect x="192.65" y="323.40" width="9.3" height="1.10" fill="#fff" stroke="#7a7a7a" stroke-width="0.7"/>
<path d="M192.30 325.10L196.90 325.10L194.60 320.90Z" fill="#4b87c9"/>
<path d="M195.10 325.10L199.70 325.10L197.40 320.90Z" fill="#4b87c9"/>
<path d="M197.90 325.10L202.50 325.10L200.20 320.90Z" fill="#4b87c9"/>
<rect x="206.95" y="292.20" width="9.3" height="32.30" fill="#fff" stroke="#7a7a7a" stroke-width="0.7"/>
<line x1="211.60" y1="281.40" x2="211.60" y2="302.20" stroke="#5c5c5c" stroke-width="0.7" />
<line x1="209.30" y1="281.40" x2="213.90" y2="281.40" stroke="#5c5c5c" stroke-width="0.7" />
<line x1="209.30" y1="302.20" x2="213.90" y2="302.20" stroke="#5c5c5c" stroke-width="0.7" />
<path d="M209.20 274.70L213.80 274.70L211.50 270.50Z" fill="#4b87c9"/>
<path d="M209.20 298.30L213.80 298.30L211.50 294.10Z" fill="#4b87c9"/>
<path d="M209.20 308.70L213.80 308.70L211.50 304.50Z" fill="#4b87c9"/>
<line x1="29.00" y1="355.50" x2="79.40" y2="355.50" stroke="#333" stroke-width="0.8" />
<line x1="98.20" y1="355.50" x2="148.40" y2="355.50" stroke="#333" stroke-width="0.8" />
<line x1="162.60" y1="355.50" x2="212.60" y2="355.50" stroke="#333" stroke-width="0.8" />
<text x="42.50" y="366.70" font-size="8.8" fill="#242424" textLength="19.80" lengthAdjust="spacingAndGlyphs" >1 day</text>
<text x="112.00" y="366.70" font-size="8.8" fill="#242424" textLength="26.60" lengthAdjust="spacingAndGlyphs" >2 days</text>
<text x="183.20" y="366.70" font-size="8.8" fill="#242424" textLength="26.60" lengthAdjust="spacingAndGlyphs" >3 days</text>
<path d="M67.6 372.6 C74.6 383 81.6 386.6 85.6 386.6 C91.6 386.6 98.6 381 102.3 375.6" fill="none" stroke="#1f1f1f" stroke-width="0.8"/>
<path d="M103.89999999999999 372.7L100.39999999999999 374.9L102.89999999999999 376.8Z" fill="#1f1f1f"/>
<path d="M139.6 372.6 C146.6 383 153.6 386.6 158.0 386.6 C164.4 386.6 171.4 381 175.1 375.6" fill="none" stroke="#1f1f1f" stroke-width="0.8"/>
<path d="M176.70000000000002 372.7L173.20000000000002 374.9L175.70000000000002 376.8Z" fill="#1f1f1f"/>
<line x1="39.00" y1="237.50" x2="84.40" y2="237.50" stroke="#444" stroke-width="0.7" />
<text x="55.60" y="235.30" font-size="8.2" fill="#242424" textLength="12.00" lengthAdjust="spacingAndGlyphs" >NS</text>
<line x1="39.00" y1="247.30" x2="67.00" y2="247.30" stroke="#444" stroke-width="0.7" />
<text x="52.00" y="249.30" font-size="10.5" fill="#242424" text-anchor="middle" >*</text>
<line x1="66.20" y1="263.00" x2="83.80" y2="263.00" stroke="#444" stroke-width="0.7" />
<text x="74.60" y="265.00" font-size="10.5" fill="#242424" text-anchor="middle" >*</text>
<line x1="100.20" y1="200.40" x2="133.80" y2="200.40" stroke="#444" stroke-width="0.7" />
<text x="117.60" y="202.40" font-size="10.5" fill="#242424" text-anchor="middle" >*</text>
<line x1="131.40" y1="241.60" x2="149.20" y2="241.60" stroke="#444" stroke-width="0.7" />
<text x="139.70" y="243.60" font-size="10.5" fill="#242424" text-anchor="middle" >*</text>
<line x1="169.80" y1="252.30" x2="199.20" y2="252.30" stroke="#444" stroke-width="0.7" />
<text x="184.40" y="254.30" font-size="10.5" fill="#242424" text-anchor="middle" >*</text>
<line x1="169.20" y1="262.90" x2="186.60" y2="262.90" stroke="#444" stroke-width="0.7" />
<text x="177.80" y="264.90" font-size="10.5" fill="#242424" text-anchor="middle" >*</text>
<line x1="256.90" y1="186.15" x2="256.90" y2="324.85" stroke="#4d4d4d" stroke-width="0.7" />
<line x1="253.70" y1="186.50" x2="256.90" y2="186.50" stroke="#4d4d4d" stroke-width="0.7" />
<text x="249.40" y="189.40" font-size="8.2" fill="#242424" text-anchor="end" >20</text>
<line x1="253.70" y1="221.10" x2="256.90" y2="221.10" stroke="#4d4d4d" stroke-width="0.7" />
<text x="249.40" y="224.00" font-size="8.2" fill="#242424" text-anchor="end" >15</text>
<line x1="253.70" y1="255.60" x2="256.90" y2="255.60" stroke="#4d4d4d" stroke-width="0.7" />
<text x="249.40" y="258.50" font-size="8.2" fill="#242424" text-anchor="end" >10</text>
<line x1="253.70" y1="290.10" x2="256.90" y2="290.10" stroke="#4d4d4d" stroke-width="0.7" />
<text x="249.40" y="293.00" font-size="8.2" fill="#242424" text-anchor="end" >5</text>
<line x1="253.70" y1="324.50" x2="256.90" y2="324.50" stroke="#4d4d4d" stroke-width="0.7" />
<text x="249.40" y="327.40" font-size="8.2" fill="#242424" text-anchor="end" >0</text>
<text x="305.00" y="172.50" font-size="8.8" fill="#242424" textLength="99.00" lengthAdjust="spacingAndGlyphs" >DEG-CAR T cell coculture</text>
<text x="288.60" y="183.20" font-size="8.8" fill="#242424" textLength="132.40" lengthAdjust="spacingAndGlyphs" >+ monocytes + target tumor cells</text>
<line x1="256.55" y1="324.50" x2="455.40" y2="324.50" stroke="#4d4d4d" stroke-width="0.7" />
<line x1="266.10" y1="324.50" x2="266.10" y2="328.10" stroke="#4d4d4d" stroke-width="0.7" />
<text transform="translate(269.20,334.00) rotate(-45)" font-size="7.6" fill="#242424" text-anchor="end">DMSO</text>
<line x1="281.00" y1="324.50" x2="281.00" y2="328.10" stroke="#4d4d4d" stroke-width="0.7" />
<text transform="translate(284.10,334.00) rotate(-45)" font-size="7.6" fill="#242424" text-anchor="end">DMSO</text>
<line x1="295.30" y1="324.50" x2="295.30" y2="328.10" stroke="#4d4d4d" stroke-width="0.7" />
<text transform="translate(298.40,334.00) rotate(-45)" font-size="7.6" fill="#242424" text-anchor="end">Ven</text>
<line x1="309.90" y1="324.50" x2="309.90" y2="328.10" stroke="#4d4d4d" stroke-width="0.7" />
<text transform="translate(313.00,334.00) rotate(-45)" font-size="7.6" fill="#ee5a2b" text-anchor="end">Len</text>
<line x1="334.30" y1="324.50" x2="334.30" y2="328.10" stroke="#4d4d4d" stroke-width="0.7" />
<text transform="translate(337.40,334.00) rotate(-45)" font-size="7.6" fill="#242424" text-anchor="end">DMSO</text>
<line x1="349.10" y1="324.50" x2="349.10" y2="328.10" stroke="#4d4d4d" stroke-width="0.7" />
<text transform="translate(352.20,334.00) rotate(-45)" font-size="7.6" fill="#242424" text-anchor="end">DMSO</text>
<line x1="363.20" y1="324.50" x2="363.20" y2="328.10" stroke="#4d4d4d" stroke-width="0.7" />
<text transform="translate(366.30,334.00) rotate(-45)" font-size="7.6" fill="#242424" text-anchor="end">Ven</text>
<line x1="378.00" y1="324.50" x2="378.00" y2="328.10" stroke="#4d4d4d" stroke-width="0.7" />
<text transform="translate(381.10,334.00) rotate(-45)" font-size="7.6" fill="#ee5a2b" text-anchor="end">Len</text>
<line x1="401.80" y1="324.50" x2="401.80" y2="328.10" stroke="#4d4d4d" stroke-width="0.7" />
<text transform="translate(404.90,334.00) rotate(-45)" font-size="7.6" fill="#242424" text-anchor="end">DMSO</text>
<line x1="417.00" y1="324.50" x2="417.00" y2="328.10" stroke="#4d4d4d" stroke-width="0.7" />
<text transform="translate(420.10,334.00) rotate(-45)" font-size="7.6" fill="#d9a470" text-anchor="end">Ven+Len</text>
<line x1="431.30" y1="324.50" x2="431.30" y2="328.10" stroke="#4d4d4d" stroke-width="0.7" />
<text transform="translate(434.40,334.00) rotate(-45)" font-size="7.6" fill="#242424" text-anchor="end">Ven</text>
<line x1="446.30" y1="324.50" x2="446.30" y2="328.10" stroke="#4d4d4d" stroke-width="0.7" />
<text transform="translate(449.40,334.00) rotate(-45)" font-size="7.6" fill="#ee5a2b" text-anchor="end">Len</text>
<rect x="261.45" y="271.90" width="9.3" height="52.60" fill="#fff" stroke="#7a7a7a" stroke-width="0.7"/>
<line x1="266.10" y1="263.30" x2="266.10" y2="279.20" stroke="#5c5c5c" stroke-width="0.7" />
<line x1="263.80" y1="263.30" x2="268.40" y2="263.30" stroke="#5c5c5c" stroke-width="0.7" />
<line x1="263.80" y1="279.20" x2="268.40" y2="279.20" stroke="#5c5c5c" stroke-width="0.7" />
<path d="M263.80 259.40L268.40 259.40L266.10 263.60Z" fill="#f07f2d"/>
<path d="M263.80 263.40L268.40 263.40L266.10 267.60Z" fill="#f07f2d"/>
<path d="M263.80 285.10L268.40 285.10L266.10 289.30Z" fill="#f07f2d"/>
<rect x="276.35" y="283.40" width="9.3" height="41.10" fill="#fff" stroke="#7a7a7a" stroke-width="0.7"/>
<line x1="281.00" y1="276.40" x2="281.00" y2="288.80" stroke="#5c5c5c" stroke-width="0.7" />
<line x1="278.70" y1="276.40" x2="283.30" y2="276.40" stroke="#5c5c5c" stroke-width="0.7" />
<line x1="278.70" y1="288.80" x2="283.30" y2="288.80" stroke="#5c5c5c" stroke-width="0.7" />
<path d="M278.70 268.60L283.30 268.60L281.00 272.80Z" fill="#f07f2d"/>
<path d="M278.70 285.10L283.30 285.10L281.00 289.30Z" fill="#f07f2d"/>
<path d="M278.70 289.30L283.30 289.30L281.00 293.50Z" fill="#f07f2d"/>
<rect x="290.65" y="287.50" width="9.3" height="37.00" fill="#fff" stroke="#7a7a7a" stroke-width="0.7"/>
<line x1="295.30" y1="280.40" x2="295.30" y2="293.80" stroke="#5c5c5c" stroke-width="0.7" />
<line x1="293.00" y1="280.40" x2="297.60" y2="280.40" stroke="#5c5c5c" stroke-width="0.7" />
<line x1="293.00" y1="293.80" x2="297.60" y2="293.80" stroke="#5c5c5c" stroke-width="0.7" />
<path d="M293.00 275.20L297.60 275.20L295.30 279.40Z" fill="#f07f2d"/>
<path d="M293.00 286.50L297.60 286.50L295.30 290.70Z" fill="#f07f2d"/>
<path d="M293.00 297.80L297.60 297.80L295.30 302.00Z" fill="#f07f2d"/>
<rect x="305.25" y="318.40" width="9.3" height="6.10" fill="#fff" stroke="#7a7a7a" stroke-width="0.7"/>
<line x1="309.90" y1="312.30" x2="309.90" y2="323.60" stroke="#5c5c5c" stroke-width="0.7" />
<line x1="307.60" y1="312.30" x2="312.20" y2="312.30" stroke="#5c5c5c" stroke-width="0.7" />
<line x1="307.60" y1="323.60" x2="312.20" y2="323.60" stroke="#5c5c5c" stroke-width="0.7" />
<path d="M307.80 305.00L312.40 305.00L310.10 309.20Z" fill="#f07f2d"/>
<path d="M305.10 320.70L309.70 320.70L307.40 324.90Z" fill="#f07f2d"/>
<path d="M310.70 320.70L315.30 320.70L313.00 324.90Z" fill="#f07f2d"/>
<rect x="329.65" y="249.30" width="9.3" height="75.20" fill="#fff" stroke="#7a7a7a" stroke-width="0.7"/>
<line x1="334.30" y1="240.60" x2="334.30" y2="258.60" stroke="#f29a5e" stroke-width="0.7" />
<line x1="332.00" y1="240.60" x2="336.60" y2="240.60" stroke="#f29a5e" stroke-width="0.7" />
<line x1="332.00" y1="258.60" x2="336.60" y2="258.60" stroke="#f29a5e" stroke-width="0.7" />
<path d="M331.90 235.90L336.50 235.90L334.20 240.10Z" fill="#f07f2d"/>
<path d="M331.90 239.10L336.50 239.10L334.20 243.30Z" fill="#f07f2d"/>
<path d="M331.90 265.70L336.50 265.70L334.20 269.90Z" fill="#f07f2d"/>
<rect x="344.45" y="246.30" width="9.3" height="78.20" fill="#fff" stroke="#7a7a7a" stroke-width="0.7"/>
<line x1="349.10" y1="226.60" x2="349.10" y2="265.60" stroke="#f29a5e" stroke-width="0.7" />
<line x1="346.80" y1="226.60" x2="351.40" y2="226.60" stroke="#f29a5e" stroke-width="0.7" />
<line x1="346.80" y1="265.60" x2="351.40" y2="265.60" stroke="#f29a5e" stroke-width="0.7" />
<path d="M346.80 209.00L351.40 209.00L349.10 213.20Z" fill="#f07f2d"/>
<path d="M346.80 245.10L351.40 245.10L349.10 249.30Z" fill="#f07f2d"/>
<path d="M346.80 276.90L351.40 276.90L349.10 281.10Z" fill="#f07f2d"/>
<rect x="358.55" y="255.40" width="9.3" height="69.10" fill="#fff" stroke="#7a7a7a" stroke-width="0.7"/>
<line x1="363.20" y1="233.60" x2="363.20" y2="276.60" stroke="#f29a5e" stroke-width="0.7" />
<line x1="360.90" y1="233.60" x2="365.50" y2="233.60" stroke="#f29a5e" stroke-width="0.7" />
<line x1="360.90" y1="276.60" x2="365.50" y2="276.60" stroke="#f29a5e" stroke-width="0.7" />
<path d="M361.00 218.30L365.60 218.30L363.30 222.50Z" fill="#f07f2d"/>
<path d="M361.00 247.70L365.60 247.70L363.30 251.90Z" fill="#f07f2d"/>
<path d="M361.00 292.90L365.60 292.90L363.30 297.10Z" fill="#f07f2d"/>
<rect x="373.35" y="279.50" width="9.3" height="45.00" fill="#fff" stroke="#7a7a7a" stroke-width="0.7"/>
<line x1="378.00" y1="257.50" x2="378.00" y2="301.50" stroke="#f29a5e" stroke-width="0.7" />
<line x1="375.70" y1="257.50" x2="380.30" y2="257.50" stroke="#f29a5e" stroke-width="0.7" />
<line x1="375.70" y1="301.50" x2="380.30" y2="301.50" stroke="#f29a5e" stroke-width="0.7" />
<path d="M375.70 243.10L380.30 243.10L378.00 247.30Z" fill="#f07f2d"/>
<path d="M375.70 270.60L380.30 270.60L378.00 274.80Z" fill="#f07f2d"/>
<path d="M375.70 318.30L380.30 318.30L378.00 322.50Z" fill="#f07f2d"/>
<rect x="397.15" y="283.00" width="9.3" height="41.50" fill="#fff" stroke="#7a7a7a" stroke-width="0.7"/>
<line x1="401.80" y1="280.80" x2="401.80" y2="285.20" stroke="#5c5c5c" stroke-width="0.7" />
<line x1="399.50" y1="280.80" x2="404.10" y2="280.80" stroke="#5c5c5c" stroke-width="0.7" />
<line x1="399.50" y1="285.20" x2="404.10" y2="285.20" stroke="#5c5c5c" stroke-width="0.7" />
<path d="M396.70 282.50L401.30 282.50L399.00 286.70Z" fill="#f07f2d"/>
<path d="M399.70 276.30L404.30 276.30L402.00 280.50Z" fill="#f07f2d"/>
<path d="M402.30 282.10L406.90 282.10L404.60 286.30Z" fill="#f07f2d"/>
<rect x="412.35" y="312.30" width="9.3" height="12.20" fill="#fff" stroke="#7a7a7a" stroke-width="0.7"/>
<line x1="417.00" y1="306.60" x2="417.00" y2="317.20" stroke="#5c5c5c" stroke-width="0.7" />
<line x1="414.70" y1="306.60" x2="419.30" y2="306.60" stroke="#5c5c5c" stroke-width="0.7" />
<line x1="414.70" y1="317.20" x2="419.30" y2="317.20" stroke="#5c5c5c" stroke-width="0.7" />
<path d="M414.70 301.10L419.30 301.10L417.00 305.30Z" fill="#f07f2d"/>
<path d="M414.70 308.70L419.30 308.70L417.00 312.90Z" fill="#f07f2d"/>
<path d="M414.70 318.30L419.30 318.30L417.00 322.50Z" fill="#f07f2d"/>
<rect x="426.65" y="291.00" width="9.3" height="33.50" fill="#fff" stroke="#7a7a7a" stroke-width="0.7"/>
<line x1="431.30" y1="282.70" x2="431.30" y2="298.00" stroke="#5c5c5c" stroke-width="0.7" />
<line x1="429.00" y1="282.70" x2="433.60" y2="282.70" stroke="#5c5c5c" stroke-width="0.7" />
<line x1="429.00" y1="298.00" x2="433.60" y2="298.00" stroke="#5c5c5c" stroke-width="0.7" />
<path d="M429.00 274.70L433.60 274.70L431.30 278.90Z" fill="#f07f2d"/>
<path d="M429.00 291.30L433.60 291.30L431.30 295.50Z" fill="#f07f2d"/>
<path d="M429.00 303.30L433.60 303.30L431.30 307.50Z" fill="#f07f2d"/>
<rect x="441.65" y="296.40" width="9.3" height="28.10" fill="#fff" stroke="#7a7a7a" stroke-width="0.7"/>
<line x1="446.30" y1="282.70" x2="446.30" y2="308.50" stroke="#5c5c5c" stroke-width="0.7" />
<line x1="444.00" y1="282.70" x2="448.60" y2="282.70" stroke="#5c5c5c" stroke-width="0.7" />
<line x1="444.00" y1="308.50" x2="448.60" y2="308.50" stroke="#5c5c5c" stroke-width="0.7" />
<path d="M444.00 273.70L448.60 273.70L446.30 277.90Z" fill="#f07f2d"/>
<path d="M444.00 289.70L448.60 289.70L446.30 293.90Z" fill="#f07f2d"/>
<path d="M444.00 318.30L448.60 318.30L446.30 322.50Z" fill="#f07f2d"/>
<line x1="263.00" y1="355.50" x2="313.70" y2="355.50" stroke="#333" stroke-width="0.8" />
<line x1="330.00" y1="355.50" x2="380.00" y2="355.50" stroke="#333" stroke-width="0.8" />
<line x1="399.00" y1="355.50" x2="449.50" y2="355.50" stroke="#333" stroke-width="0.8" />
<text x="276.90" y="366.70" font-size="8.8" fill="#242424" textLength="19.80" lengthAdjust="spacingAndGlyphs" >1 day</text>
<text x="343.30" y="366.70" font-size="8.8" fill="#242424" textLength="25.30" lengthAdjust="spacingAndGlyphs" >2 days</text>
<text x="412.20" y="366.70" font-size="8.8" fill="#242424" textLength="25.90" lengthAdjust="spacingAndGlyphs" >3 days</text>
<path d="M298.4 372.6 C305.4 383 312.4 386.6 316.7 386.6 C323 386.6 330 381 333.7 375.6" fill="none" stroke="#1f1f1f" stroke-width="0.8"/>
<path d="M335.3 372.7L331.8 374.9L334.3 376.8Z" fill="#1f1f1f"/>
<path d="M371.5 372.6 C378.5 383 385.5 386.6 389.8 386.6 C396.1 386.6 403.1 381 406.8 375.6" fill="none" stroke="#1f1f1f" stroke-width="0.8"/>
<path d="M408.40000000000003 372.7L404.90000000000003 374.9L407.40000000000003 376.8Z" fill="#1f1f1f"/>
<line x1="262.80" y1="235.50" x2="312.20" y2="235.50" stroke="#444" stroke-width="0.7" />
<text x="287.40" y="237.50" font-size="10.5" fill="#242424" text-anchor="middle" >*</text>
<line x1="264.00" y1="245.30" x2="296.00" y2="245.30" stroke="#444" stroke-width="0.7" />
<text x="274.70" y="243.10" font-size="8.2" fill="#242424" textLength="11.00" lengthAdjust="spacingAndGlyphs" >NS</text>
<line x1="291.80" y1="271.90" x2="314.20" y2="271.90" stroke="#444" stroke-width="0.7" />
<text x="302.90" y="273.90" font-size="10.5" fill="#242424" text-anchor="middle" >**</text>
<line x1="331.20" y1="205.30" x2="375.80" y2="205.30" stroke="#444" stroke-width="0.7" />
<text x="348.30" y="203.10" font-size="8.2" fill="#242424" textLength="11.00" lengthAdjust="spacingAndGlyphs" >NS</text>
<line x1="360.50" y1="214.40" x2="382.20" y2="214.40" stroke="#444" stroke-width="0.7" />
<text x="370.40" y="216.40" font-size="10.5" fill="#242424" text-anchor="middle" >*</text>
<line x1="399.70" y1="259.10" x2="446.00" y2="259.10" stroke="#444" stroke-width="0.7" />
<text x="417.20" y="256.90" font-size="8.2" fill="#242424" textLength="11.00" lengthAdjust="spacingAndGlyphs" >NS</text>
<line x1="399.00" y1="272.50" x2="422.00" y2="272.50" stroke="#444" stroke-width="0.7" />
<text x="411.20" y="274.50" font-size="10.5" fill="#242424" text-anchor="middle" >*</text>
<line x1="492.40" y1="180.45" x2="492.40" y2="324.85" stroke="#4d4d4d" stroke-width="0.7" />
<line x1="489.20" y1="180.80" x2="492.40" y2="180.80" stroke="#4d4d4d" stroke-width="0.7" />
<text x="484.40" y="183.70" font-size="8.2" fill="#242424" text-anchor="end" >60</text>
<line x1="489.20" y1="228.30" x2="492.40" y2="228.30" stroke="#4d4d4d" stroke-width="0.7" />
<text x="484.40" y="231.20" font-size="8.2" fill="#242424" text-anchor="end" >40</text>
<line x1="489.20" y1="276.60" x2="492.40" y2="276.60" stroke="#4d4d4d" stroke-width="0.7" />
<text x="484.40" y="279.50" font-size="8.2" fill="#242424" text-anchor="end" >20</text>
<line x1="489.20" y1="324.50" x2="492.40" y2="324.50" stroke="#4d4d4d" stroke-width="0.7" />
<text x="484.40" y="327.40" font-size="8.2" fill="#242424" text-anchor="end" >0</text>
<text x="540.50" y="172.50" font-size="8.8" fill="#242424" textLength="96.50" lengthAdjust="spacingAndGlyphs" >2G-CAR T cell coculture</text>
<text x="522.40" y="183.20" font-size="8.8" fill="#242424" textLength="132.60" lengthAdjust="spacingAndGlyphs" >+ monocytes + target tumor cells</text>
<line x1="492.05" y1="324.50" x2="684.40" y2="324.50" stroke="#4d4d4d" stroke-width="0.7" />
<line x1="502.00" y1="324.50" x2="502.00" y2="328.10" stroke="#4d4d4d" stroke-width="0.7" />
<text transform="translate(505.10,334.00) rotate(-45)" font-size="7.6" fill="#242424" text-anchor="end">DMSO</text>
<line x1="516.00" y1="324.50" x2="516.00" y2="328.10" stroke="#4d4d4d" stroke-width="0.7" />
<text transform="translate(519.10,334.00) rotate(-45)" font-size="7.6" fill="#242424" text-anchor="end">DMSO</text>
<line x1="530.00" y1="324.50" x2="530.00" y2="328.10" stroke="#4d4d4d" stroke-width="0.7" />
<text transform="translate(533.10,334.00) rotate(-45)" font-size="7.6" fill="#242424" text-anchor="end">Ven</text>
<line x1="544.00" y1="324.50" x2="544.00" y2="328.10" stroke="#4d4d4d" stroke-width="0.7" />
<text transform="translate(547.10,334.00) rotate(-45)" font-size="7.6" fill="#242424" text-anchor="end">Len</text>
<line x1="567.50" y1="324.50" x2="567.50" y2="328.10" stroke="#4d4d4d" stroke-width="0.7" />
<text transform="translate(570.60,334.00) rotate(-45)" font-size="7.6" fill="#242424" text-anchor="end">DMSO</text>
<line x1="581.50" y1="324.50" x2="581.50" y2="328.10" stroke="#4d4d4d" stroke-width="0.7" />
<text transform="translate(584.60,334.00) rotate(-45)" font-size="7.6" fill="#242424" text-anchor="end">DMSO</text>
<line x1="595.60" y1="324.50" x2="595.60" y2="328.10" stroke="#4d4d4d" stroke-width="0.7" />
<text transform="translate(598.70,334.00) rotate(-45)" font-size="7.6" fill="#242424" text-anchor="end">Ven</text>
<line x1="609.60" y1="324.50" x2="609.60" y2="328.10" stroke="#4d4d4d" stroke-width="0.7" />
<text transform="translate(612.70,334.00) rotate(-45)" font-size="7.6" fill="#242424" text-anchor="end">Len</text>
<line x1="632.80" y1="324.50" x2="632.80" y2="328.10" stroke="#4d4d4d" stroke-width="0.7" />
<text transform="translate(635.90,334.00) rotate(-45)" font-size="7.6" fill="#242424" text-anchor="end">DMSO</text>
<line x1="647.00" y1="324.50" x2="647.00" y2="328.10" stroke="#4d4d4d" stroke-width="0.7" />
<text transform="translate(650.10,334.00) rotate(-45)" font-size="7.6" fill="#d9a470" text-anchor="end">Ven+Len</text>
<line x1="661.00" y1="324.50" x2="661.00" y2="328.10" stroke="#4d4d4d" stroke-width="0.7" />
<text transform="translate(664.10,334.00) rotate(-45)" font-size="7.6" fill="#242424" text-anchor="end">Ven</text>
<line x1="675.10" y1="324.50" x2="675.10" y2="328.10" stroke="#4d4d4d" stroke-width="0.7" />
<text transform="translate(678.20,334.00) rotate(-45)" font-size="7.6" fill="#242424" text-anchor="end">Len</text>
<rect x="497.35" y="277.80" width="9.3" height="46.70" fill="#fff" stroke="#7a7a7a" stroke-width="0.7"/>
<line x1="502.00" y1="270.60" x2="502.00" y2="285.00" stroke="#3f9a72" stroke-width="0.7" />
<line x1="499.70" y1="270.60" x2="504.30" y2="270.60" stroke="#3f9a72" stroke-width="0.7" />
<line x1="499.70" y1="285.00" x2="504.30" y2="285.00" stroke="#3f9a72" stroke-width="0.7" />
<rect x="499.80" y="262.40" width="4.4" height="4.4" fill="#0a7a47"/>
<rect x="499.80" y="277.40" width="4.4" height="4.4" fill="#0a7a47"/>
<rect x="499.80" y="286.40" width="4.4" height="4.4" fill="#0a7a47"/>
<rect x="511.35" y="279.00" width="9.3" height="45.50" fill="#fff" stroke="#7a7a7a" stroke-width="0.7"/>
<line x1="516.00" y1="273.60" x2="516.00" y2="284.00" stroke="#3f9a72" stroke-width="0.7" />
<line x1="513.70" y1="273.60" x2="518.30" y2="273.60" stroke="#3f9a72" stroke-width="0.7" />
<line x1="513.70" y1="284.00" x2="518.30" y2="284.00" stroke="#3f9a72" stroke-width="0.7" />
<rect x="513.80" y="266.80" width="4.4" height="4.4" fill="#0a7a47"/>
<rect x="513.80" y="275.80" width="4.4" height="4.4" fill="#0a7a47"/>
<rect x="513.80" y="286.40" width="4.4" height="4.4" fill="#0a7a47"/>
<rect x="525.35" y="286.10" width="9.3" height="38.40" fill="#fff" stroke="#7a7a7a" stroke-width="0.7"/>
<line x1="530.00" y1="279.00" x2="530.00" y2="294.50" stroke="#3f9a72" stroke-width="0.7" />
<line x1="527.70" y1="279.00" x2="532.30" y2="279.00" stroke="#3f9a72" stroke-width="0.7" />
<line x1="527.70" y1="294.50" x2="532.30" y2="294.50" stroke="#3f9a72" stroke-width="0.7" />
<rect x="527.80" y="273.20" width="4.4" height="4.4" fill="#0a7a47"/>
<rect x="527.80" y="277.60" width="4.4" height="4.4" fill="#0a7a47"/>
<rect x="527.80" y="300.40" width="4.4" height="4.4" fill="#0a7a47"/>
<rect x="539.35" y="292.40" width="9.3" height="32.10" fill="#fff" stroke="#7a7a7a" stroke-width="0.7"/>
<line x1="544.00" y1="281.00" x2="544.00" y2="302.60" stroke="#3f9a72" stroke-width="0.7" />
<line x1="541.70" y1="281.00" x2="546.30" y2="281.00" stroke="#3f9a72" stroke-width="0.7" />
<line x1="541.70" y1="302.60" x2="546.30" y2="302.60" stroke="#3f9a72" stroke-width="0.7" />
<rect x="541.80" y="272.80" width="4.4" height="4.4" fill="#0a7a47"/>
<rect x="541.80" y="287.80" width="4.4" height="4.4" fill="#0a7a47"/>
<rect x="541.80" y="308.20" width="4.4" height="4.4" fill="#0a7a47"/>
<rect x="562.85" y="264.00" width="9.3" height="60.50" fill="#fff" stroke="#7a7a7a" stroke-width="0.7"/>
<line x1="567.50" y1="254.20" x2="567.50" y2="275.00" stroke="#3f9a72" stroke-width="0.7" />
<line x1="565.20" y1="254.20" x2="569.80" y2="254.20" stroke="#3f9a72" stroke-width="0.7" />
<line x1="565.20" y1="275.00" x2="569.80" y2="275.00" stroke="#3f9a72" stroke-width="0.7" />
<rect x="562.80" y="248.80" width="4.4" height="4.4" fill="#0a7a47"/>
<rect x="567.80" y="251.80" width="4.4" height="4.4" fill="#0a7a47"/>
<rect x="565.20" y="284.00" width="4.4" height="4.4" fill="#0a7a47"/>
<rect x="576.85" y="239.30" width="9.3" height="85.20" fill="#fff" stroke="#7a7a7a" stroke-width="0.7"/>
<line x1="581.50" y1="215.40" x2="581.50" y2="262.20" stroke="#3f9a72" stroke-width="0.7" />
<line x1="579.20" y1="215.40" x2="583.80" y2="215.40" stroke="#3f9a72" stroke-width="0.7" />
<line x1="579.20" y1="262.20" x2="583.80" y2="262.20" stroke="#3f9a72" stroke-width="0.7" />
<rect x="579.30" y="204.50" width="4.4" height="4.4" fill="#0a7a47"/>
<rect x="579.30" y="224.20" width="4.4" height="4.4" fill="#0a7a47"/>
<rect x="579.30" y="281.60" width="4.4" height="4.4" fill="#0a7a47"/>
<rect x="590.95" y="254.20" width="9.3" height="70.30" fill="#fff" stroke="#7a7a7a" stroke-width="0.7"/>
<line x1="595.60" y1="236.30" x2="595.60" y2="271.20" stroke="#3f9a72" stroke-width="0.7" />
<line x1="593.30" y1="236.30" x2="597.90" y2="236.30" stroke="#3f9a72" stroke-width="0.7" />
<line x1="593.30" y1="271.20" x2="597.90" y2="271.20" stroke="#3f9a72" stroke-width="0.7" />
<rect x="593.40" y="226.90" width="4.4" height="4.4" fill="#0a7a47"/>
<rect x="593.40" y="243.30" width="4.4" height="4.4" fill="#0a7a47"/>
<rect x="593.40" y="285.80" width="4.4" height="4.4" fill="#0a7a47"/>
<rect x="604.95" y="252.10" width="9.3" height="72.40" fill="#fff" stroke="#7a7a7a" stroke-width="0.7"/>
<line x1="609.60" y1="228.20" x2="609.60" y2="276.00" stroke="#3f9a72" stroke-width="0.7" />
<line x1="607.30" y1="228.20" x2="611.90" y2="228.20" stroke="#3f9a72" stroke-width="0.7" />
<line x1="607.30" y1="276.00" x2="611.90" y2="276.00" stroke="#3f9a72" stroke-width="0.7" />
<rect x="607.40" y="220.60" width="4.4" height="4.4" fill="#0a7a47"/>
<rect x="607.40" y="232.60" width="4.4" height="4.4" fill="#0a7a47"/>
<rect x="607.40" y="296.80" width="4.4" height="4.4" fill="#0a7a47"/>
<rect x="628.15" y="287.00" width="9.3" height="37.50" fill="#fff" stroke="#7a7a7a" stroke-width="0.7"/>
<line x1="632.80" y1="281.00" x2="632.80" y2="293.00" stroke="#3f9a72" stroke-width="0.7" />
<line x1="630.50" y1="281.00" x2="635.10" y2="281.00" stroke="#3f9a72" stroke-width="0.7" />
<line x1="630.50" y1="293.00" x2="635.10" y2="293.00" stroke="#3f9a72" stroke-width="0.7" />
<rect x="630.60" y="275.80" width="4.4" height="4.4" fill="#0a7a47"/>
<rect x="630.60" y="280.80" width="4.4" height="4.4" fill="#0a7a47"/>
<rect x="630.60" y="295.80" width="4.4" height="4.4" fill="#0a7a47"/>
<rect x="642.35" y="279.00" width="9.3" height="45.50" fill="#fff" stroke="#7a7a7a" stroke-width="0.7"/>
<line x1="647.00" y1="266.00" x2="647.00" y2="291.60" stroke="#3f9a72" stroke-width="0.7" />
<line x1="644.70" y1="266.00" x2="649.30" y2="266.00" stroke="#3f9a72" stroke-width="0.7" />
<line x1="644.70" y1="291.60" x2="649.30" y2="291.60" stroke="#3f9a72" stroke-width="0.7" />
<rect x="644.80" y="258.50" width="4.4" height="4.4" fill="#0a7a47"/>
<rect x="644.80" y="269.80" width="4.4" height="4.4" fill="#0a7a47"/>
<rect x="644.80" y="300.60" width="4.4" height="4.4" fill="#0a7a47"/>
<rect x="656.35" y="288.00" width="9.3" height="36.50" fill="#fff" stroke="#7a7a7a" stroke-width="0.7"/>
<line x1="661.00" y1="281.00" x2="661.00" y2="295.00" stroke="#3f9a72" stroke-width="0.7" />
<line x1="658.70" y1="281.00" x2="663.30" y2="281.00" stroke="#3f9a72" stroke-width="0.7" />
<line x1="658.70" y1="295.00" x2="663.30" y2="295.00" stroke="#3f9a72" stroke-width="0.7" />
<rect x="658.80" y="275.80" width="4.4" height="4.4" fill="#0a7a47"/>
<rect x="658.80" y="279.20" width="4.4" height="4.4" fill="#0a7a47"/>
<rect x="658.80" y="299.80" width="4.4" height="4.4" fill="#0a7a47"/>
<rect x="670.45" y="288.00" width="9.3" height="36.50" fill="#fff" stroke="#7a7a7a" stroke-width="0.7"/>
<line x1="675.10" y1="275.00" x2="675.10" y2="300.00" stroke="#3f9a72" stroke-width="0.7" />
<line x1="672.80" y1="275.00" x2="677.40" y2="275.00" stroke="#3f9a72" stroke-width="0.7" />
<line x1="672.80" y1="300.00" x2="677.40" y2="300.00" stroke="#3f9a72" stroke-width="0.7" />
<rect x="672.90" y="267.60" width="4.4" height="4.4" fill="#0a7a47"/>
<rect x="672.90" y="278.20" width="4.4" height="4.4" fill="#0a7a47"/>
<rect x="672.90" y="309.60" width="4.4" height="4.4" fill="#0a7a47"/>
<line x1="491.00" y1="355.50" x2="541.70" y2="355.50" stroke="#8a8a8a" stroke-width="1.2" />
<line x1="560.20" y1="355.50" x2="610.90" y2="355.50" stroke="#8a8a8a" stroke-width="1.2" />
<line x1="626.80" y1="355.50" x2="677.10" y2="355.50" stroke="#8a8a8a" stroke-width="1.2" />
<text x="506.30" y="366.70" font-size="8.8" fill="#242424" textLength="20.10" lengthAdjust="spacingAndGlyphs" >1 day</text>
<text x="574.10" y="366.70" font-size="8.8" fill="#242424" textLength="25.40" lengthAdjust="spacingAndGlyphs" >2 days</text>
<text x="640.70" y="366.70" font-size="8.8" fill="#242424" textLength="25.40" lengthAdjust="spacingAndGlyphs" >3 days</text>
<path d="M533.4 372.6 C540.4 383 547.4 386.6 551.7 386.6 C558 386.6 565 381 568.7 375.6" fill="none" stroke="#1f1f1f" stroke-width="0.8"/>
<path d="M570.3 372.7L566.8 374.9L569.3 376.8Z" fill="#1f1f1f"/>
<path d="M606.2 372.6 C613.2 383 620.2 386.6 624.35 386.6 C630.5 386.6 637.5 381 641.2 375.6" fill="none" stroke="#1f1f1f" stroke-width="0.8"/>
<path d="M642.8 372.7L639.3 374.9L641.8 376.8Z" fill="#1f1f1f"/>
<line x1="500.20" y1="254.30" x2="545.70" y2="254.30" stroke="#444" stroke-width="0.7" />
<text x="517.50" y="252.10" font-size="8.2" fill="#242424" textLength="11.00" lengthAdjust="spacingAndGlyphs" >NS</text>
<line x1="565.50" y1="199.40" x2="610.40" y2="199.40" stroke="#444" stroke-width="0.7" />
<text x="582.80" y="197.20" font-size="8.2" fill="#242424" textLength="11.00" lengthAdjust="spacingAndGlyphs" >NS</text>
<line x1="630.70" y1="246.70" x2="674.90" y2="246.70" stroke="#444" stroke-width="0.7" />
<text x="647.00" y="244.50" font-size="8.2" fill="#242424" textLength="11.00" lengthAdjust="spacingAndGlyphs" >NS</text>
<line x1="644.70" y1="256.30" x2="673.00" y2="256.30" stroke="#444" stroke-width="0.7" />
<text x="654.50" y="254.10" font-size="8.2" fill="#242424" textLength="11.00" lengthAdjust="spacingAndGlyphs" >NS</text>
</g>
<g id="panelC">
<text x="3.60" y="409.80" font-size="12" fill="#242424" textLength="6.40" lengthAdjust="spacingAndGlyphs" font-weight="bold">c</text>
<line x1="37.40" y1="416.00" x2="37.40" y2="476.75" stroke="#4d4d4d" stroke-width="0.7" />
<line x1="34.00" y1="416.30" x2="37.40" y2="416.30" stroke="#4d4d4d" stroke-width="0.7" />
<text x="31.00" y="419.20" font-size="8.2" fill="#242424" text-anchor="end" >2</text>
<line x1="34.00" y1="446.50" x2="37.40" y2="446.50" stroke="#4d4d4d" stroke-width="0.7" />
<text x="31.00" y="449.40" font-size="8.2" fill="#242424" text-anchor="end" >1</text>
<line x1="34.00" y1="476.40" x2="37.40" y2="476.40" stroke="#4d4d4d" stroke-width="0.7" />
<text x="31.00" y="479.30" font-size="8.2" fill="#242424" text-anchor="end" >0</text>
<line x1="37.05" y1="476.40" x2="254.80" y2="476.40" stroke="#4d4d4d" stroke-width="0.7" />
<text transform="translate(18,446.8) rotate(-90)" font-size="8.8" fill="#242424" text-anchor="middle" textLength="53.6" lengthAdjust="spacingAndGlyphs">hIL6 (ng ml<tspan font-size="5.6" dy="-3">–1</tspan><tspan dy="3">)</tspan></text>
<text x="105.00" y="417.20" font-size="8.8" fill="#242424" textLength="79.60" lengthAdjust="spacingAndGlyphs" >T cells + monocytes</text>
<text x="114.00" y="500.90" font-size="8.8" fill="#242424" textLength="70.60" lengthAdjust="spacingAndGlyphs" >Days of coculture</text>
<line x1="47.60" y1="476.40" x2="47.60" y2="480.00" stroke="#4d4d4d" stroke-width="0.7" />
<text x="47.60" y="489.60" font-size="8.2" fill="#242424" text-anchor="middle" >1</text>
<line x1="62.40" y1="476.40" x2="62.40" y2="480.00" stroke="#4d4d4d" stroke-width="0.7" />
<text x="62.40" y="489.60" font-size="8.2" fill="#242424" text-anchor="middle" >2</text>
<line x1="77.40" y1="476.40" x2="77.40" y2="480.00" stroke="#4d4d4d" stroke-width="0.7" />
<text x="77.40" y="489.60" font-size="8.2" fill="#242424" text-anchor="middle" >3</text>
<line x1="103.00" y1="476.40" x2="103.00" y2="480.00" stroke="#4d4d4d" stroke-width="0.7" />
<text x="103.00" y="489.60" font-size="8.2" fill="#242424" text-anchor="middle" >1</text>
<line x1="118.00" y1="476.40" x2="118.00" y2="480.00" stroke="#4d4d4d" stroke-width="0.7" />
<text x="118.00" y="489.60" font-size="8.2" fill="#242424" text-anchor="middle" >2</text>
<line x1="133.00" y1="476.40" x2="133.00" y2="480.00" stroke="#4d4d4d" stroke-width="0.7" />
<text x="133.00" y="489.60" font-size="8.2" fill="#242424" text-anchor="middle" >3</text>
<line x1="158.40" y1="476.40" x2="158.40" y2="480.00" stroke="#4d4d4d" stroke-width="0.7" />
<text x="158.40" y="489.60" font-size="8.2" fill="#242424" text-anchor="middle" >1</text>
<line x1="173.40" y1="476.40" x2="173.40" y2="480.00" stroke="#4d4d4d" stroke-width="0.7" />
<text x="173.40" y="489.60" font-size="8.2" fill="#242424" text-anchor="middle" >2</text>
<line x1="188.60" y1="476.40" x2="188.60" y2="480.00" stroke="#4d4d4d" stroke-width="0.7" />
<text x="188.60" y="489.60" font-size="8.2" fill="#242424" text-anchor="middle" >3</text>
<line x1="213.40" y1="476.40" x2="213.40" y2="480.00" stroke="#4d4d4d" stroke-width="0.7" />
<text x="213.40" y="489.60" font-size="8.2" fill="#242424" text-anchor="middle" >1</text>
<line x1="228.80" y1="476.40" x2="228.80" y2="480.00" stroke="#4d4d4d" stroke-width="0.7" />
<text x="228.80" y="489.60" font-size="8.2" fill="#242424" text-anchor="middle" >2</text>
<line x1="243.80" y1="476.40" x2="243.80" y2="480.00" stroke="#4d4d4d" stroke-width="0.7" />
<text x="243.80" y="489.60" font-size="8.2" fill="#242424" text-anchor="middle" >3</text>
<circle cx="44.80" cy="474.70" r="2.05" fill="#e8253a"/>
<circle cx="47.60" cy="474.10" r="2.05" fill="#e8253a"/>
<circle cx="50.40" cy="474.70" r="2.05" fill="#e8253a"/>
<circle cx="59.60" cy="474.70" r="2.05" fill="#e8253a"/>
<circle cx="62.40" cy="474.10" r="2.05" fill="#e8253a"/>
<circle cx="65.20" cy="474.70" r="2.05" fill="#e8253a"/>
<circle cx="74.60" cy="474.70" r="2.05" fill="#e8253a"/>
<circle cx="77.40" cy="474.10" r="2.05" fill="#e8253a"/>
<circle cx="80.20" cy="474.70" r="2.05" fill="#e8253a"/>
<rect x="98.20" y="464.40" width="9.6" height="12.00" fill="#fff" stroke="#7a7a7a" stroke-width="0.7"/>
<line x1="103.00" y1="458.70" x2="103.00" y2="469.50" stroke="#808080" stroke-width="0.7" />
<line x1="100.70" y1="458.70" x2="105.30" y2="458.70" stroke="#808080" stroke-width="0.7" />
<line x1="100.70" y1="469.50" x2="105.30" y2="469.50" stroke="#808080" stroke-width="0.7" />
<rect x="100.80" y="451.60" width="4.4" height="4.4" fill="#0a7a47"/>
<rect x="100.80" y="463.60" width="4.4" height="4.4" fill="#0a7a47"/>
<rect x="100.80" y="470.60" width="4.4" height="4.4" fill="#0a7a47"/>
<rect x="113.20" y="450.00" width="9.6" height="26.40" fill="#fff" stroke="#7a7a7a" stroke-width="0.7"/>
<line x1="118.00" y1="439.20" x2="118.00" y2="459.30" stroke="#808080" stroke-width="0.7" />
<line x1="115.70" y1="439.20" x2="120.30" y2="439.20" stroke="#808080" stroke-width="0.7" />
<line x1="115.70" y1="459.30" x2="120.30" y2="459.30" stroke="#808080" stroke-width="0.7" />
<rect x="115.80" y="428.80" width="4.4" height="4.4" fill="#0a7a47"/>
<rect x="115.80" y="450.80" width="4.4" height="4.4" fill="#0a7a47"/>
<rect x="115.80" y="462.60" width="4.4" height="4.4" fill="#0a7a47"/>
<rect x="128.20" y="461.00" width="9.6" height="15.40" fill="#fff" stroke="#7a7a7a" stroke-width="0.7"/>
<line x1="133.00" y1="452.70" x2="133.00" y2="468.50" stroke="#808080" stroke-width="0.7" />
<line x1="130.70" y1="452.70" x2="135.30" y2="452.70" stroke="#808080" stroke-width="0.7" />
<line x1="130.70" y1="468.50" x2="135.30" y2="468.50" stroke="#808080" stroke-width="0.7" />
<rect x="130.80" y="445.60" width="4.4" height="4.4" fill="#0a7a47"/>
<rect x="130.80" y="457.80" width="4.4" height="4.4" fill="#0a7a47"/>
<rect x="130.80" y="471.80" width="4.4" height="4.4" fill="#0a7a47"/>
<rect x="153.60" y="472.60" width="9.6" height="3.80" fill="#fff" stroke="#7a7a7a" stroke-width="0.7"/>
<path d="M153.10 470.10L157.70 470.10L155.40 474.30Z" fill="#f07f2d"/>
<path d="M156.10 468.70L160.70 468.70L158.40 472.90Z" fill="#f07f2d"/>
<path d="M159.30 470.30L163.90 470.30L161.60 474.50Z" fill="#f07f2d"/>
<rect x="168.60" y="472.20" width="9.6" height="4.20" fill="#fff" stroke="#7a7a7a" stroke-width="0.7"/>
<path d="M168.50 470.70L173.10 470.70L170.80 474.90Z" fill="#f07f2d"/>
<path d="M171.10 466.30L175.70 466.30L173.40 470.50Z" fill="#f07f2d"/>
<path d="M174.30 470.50L178.90 470.50L176.60 474.70Z" fill="#f07f2d"/>
<rect x="183.80" y="474.20" width="9.6" height="2.20" fill="#fff" stroke="#7a7a7a" stroke-width="0.7"/>
<path d="M183.70 472.10L188.30 472.10L186.00 476.30Z" fill="#f07f2d"/>
<path d="M186.40 469.70L191.00 469.70L188.70 473.90Z" fill="#f07f2d"/>
<path d="M188.90 472.10L193.50 472.10L191.20 476.30Z" fill="#f07f2d"/>
<rect x="208.60" y="474.80" width="9.6" height="1.60" fill="#fff" stroke="#7a7a7a" stroke-width="0.7"/>
<path d="M208.30 475.90L212.90 475.90L210.60 471.70Z" fill="#4b87c9"/>
<path d="M211.10 474.50L215.70 474.50L213.40 470.30Z" fill="#4b87c9"/>
<path d="M213.90 475.90L218.50 475.90L216.20 471.70Z" fill="#4b87c9"/>
<rect x="224.00" y="474.80" width="9.6" height="1.60" fill="#fff" stroke="#7a7a7a" stroke-width="0.7"/>
<path d="M223.70 475.90L228.30 475.90L226.00 471.70Z" fill="#4b87c9"/>
<path d="M226.50 474.50L231.10 474.50L228.80 470.30Z" fill="#4b87c9"/>
<path d="M229.30 475.90L233.90 475.90L231.60 471.70Z" fill="#4b87c9"/>
<rect x="239.00" y="474.80" width="9.6" height="1.60" fill="#fff" stroke="#7a7a7a" stroke-width="0.7"/>
<path d="M238.70 475.90L243.30 475.90L241.00 471.70Z" fill="#4b87c9"/>
<path d="M241.50 474.50L246.10 474.50L243.80 470.30Z" fill="#4b87c9"/>
<path d="M244.30 475.90L248.90 475.90L246.60 471.70Z" fill="#4b87c9"/>
<line x1="303.30" y1="417.00" x2="303.30" y2="477.65" stroke="#4d4d4d" stroke-width="0.7" />
<line x1="300.00" y1="417.40" x2="303.30" y2="417.40" stroke="#4d4d4d" stroke-width="0.7" />
<text x="297.00" y="420.30" font-size="8.2" fill="#242424" text-anchor="end" >2</text>
<line x1="300.00" y1="447.40" x2="303.30" y2="447.40" stroke="#4d4d4d" stroke-width="0.7" />
<text x="297.00" y="450.30" font-size="8.2" fill="#242424" text-anchor="end" >1</text>
<line x1="300.00" y1="477.30" x2="303.30" y2="477.30" stroke="#4d4d4d" stroke-width="0.7" />
<text x="297.00" y="480.20" font-size="8.2" fill="#242424" text-anchor="end" >0</text>
<line x1="302.95" y1="477.30" x2="424.00" y2="477.30" stroke="#4d4d4d" stroke-width="0.7" />
<line x1="367.50" y1="477.30" x2="367.50" y2="480.70" stroke="#4d4d4d" stroke-width="0.7" />
<text x="352.60" y="412.30" font-size="8.8" fill="#242424" textLength="25.80" lengthAdjust="spacingAndGlyphs" >T cells</text>
<text x="310.50" y="422.60" font-size="8.8" fill="#242424" textLength="109.90" lengthAdjust="spacingAndGlyphs" >+ Monocytes + PC3 (PSMA<tspan font-size="5.6" dy="-3">–</tspan><tspan dy="3">)</tspan></text>
<text x="327.60" y="491.00" font-size="8.8" fill="#242424" textLength="71.60" lengthAdjust="spacingAndGlyphs" >1 day of coculture</text>
<circle cx="315.00" cy="477.30" r="2.45" fill="#e8253a"/>
<circle cx="321.80" cy="475.80" r="2.45" fill="#e8253a"/>
<circle cx="328.70" cy="477.30" r="2.45" fill="#e8253a"/>
<rect x="340.40" y="475.00" width="4.4" height="4.4" fill="#0a7a47"/>
<rect x="347.50" y="473.80" width="4.4" height="4.4" fill="#0a7a47"/>
<rect x="354.30" y="474.20" width="4.4" height="4.4" fill="#0a7a47"/>
<path d="M367.70 475.70L372.30 475.70L370.00 479.90Z" fill="#f07f2d"/>
<path d="M375.00 474.10L379.60 474.10L377.30 478.30Z" fill="#f07f2d"/>
<path d="M381.70 474.70L386.30 474.70L384.00 478.90Z" fill="#f07f2d"/>
<rect x="396.30" y="464.60" width="17.4" height="12.70" fill="#fff" stroke="#7a7a7a" stroke-width="0.7"/>
<line x1="405.00" y1="459.30" x2="405.00" y2="468.50" stroke="#9fc0e6" stroke-width="0.7" />
<line x1="400.40" y1="459.30" x2="409.60" y2="459.30" stroke="#9fc0e6" stroke-width="0.7" />
<line x1="400.40" y1="468.50" x2="409.60" y2="468.50" stroke="#9fc0e6" stroke-width="0.7" />
<path d="M402.70 457.50L407.30 457.50L405.00 453.30Z" fill="#4b87c9"/>
<path d="M402.70 468.30L407.30 468.30L405.00 464.10Z" fill="#4b87c9"/>
<path d="M402.70 472.80L407.30 472.80L405.00 468.60Z" fill="#4b87c9"/>
<circle cx="450.50" cy="427.40" r="2.45" fill="#e8253a"/>
<rect x="448.30" y="438.80" width="4.4" height="4.4" fill="#0a7a47"/>
<path d="M448.20 452.50L452.80 452.50L450.50 456.70Z" fill="#f07f2d"/>
<path d="M448.20 470.10L452.80 470.10L450.50 465.90Z" fill="#4b87c9"/>
<text x="457.30" y="430.00" font-size="8.2" fill="#242424" text-anchor="start" >UTD</text>
<text x="457.30" y="443.70" font-size="8.2" fill="#242424" text-anchor="start" >2G</text>
<text x="457.30" y="457.40" font-size="8.2" fill="#242424" text-anchor="start" >DEG</text>
<text x="457.30" y="471.00" font-size="8.2" fill="#242424" text-anchor="start" >DROP</text>
</g>
</svg></body></html>
